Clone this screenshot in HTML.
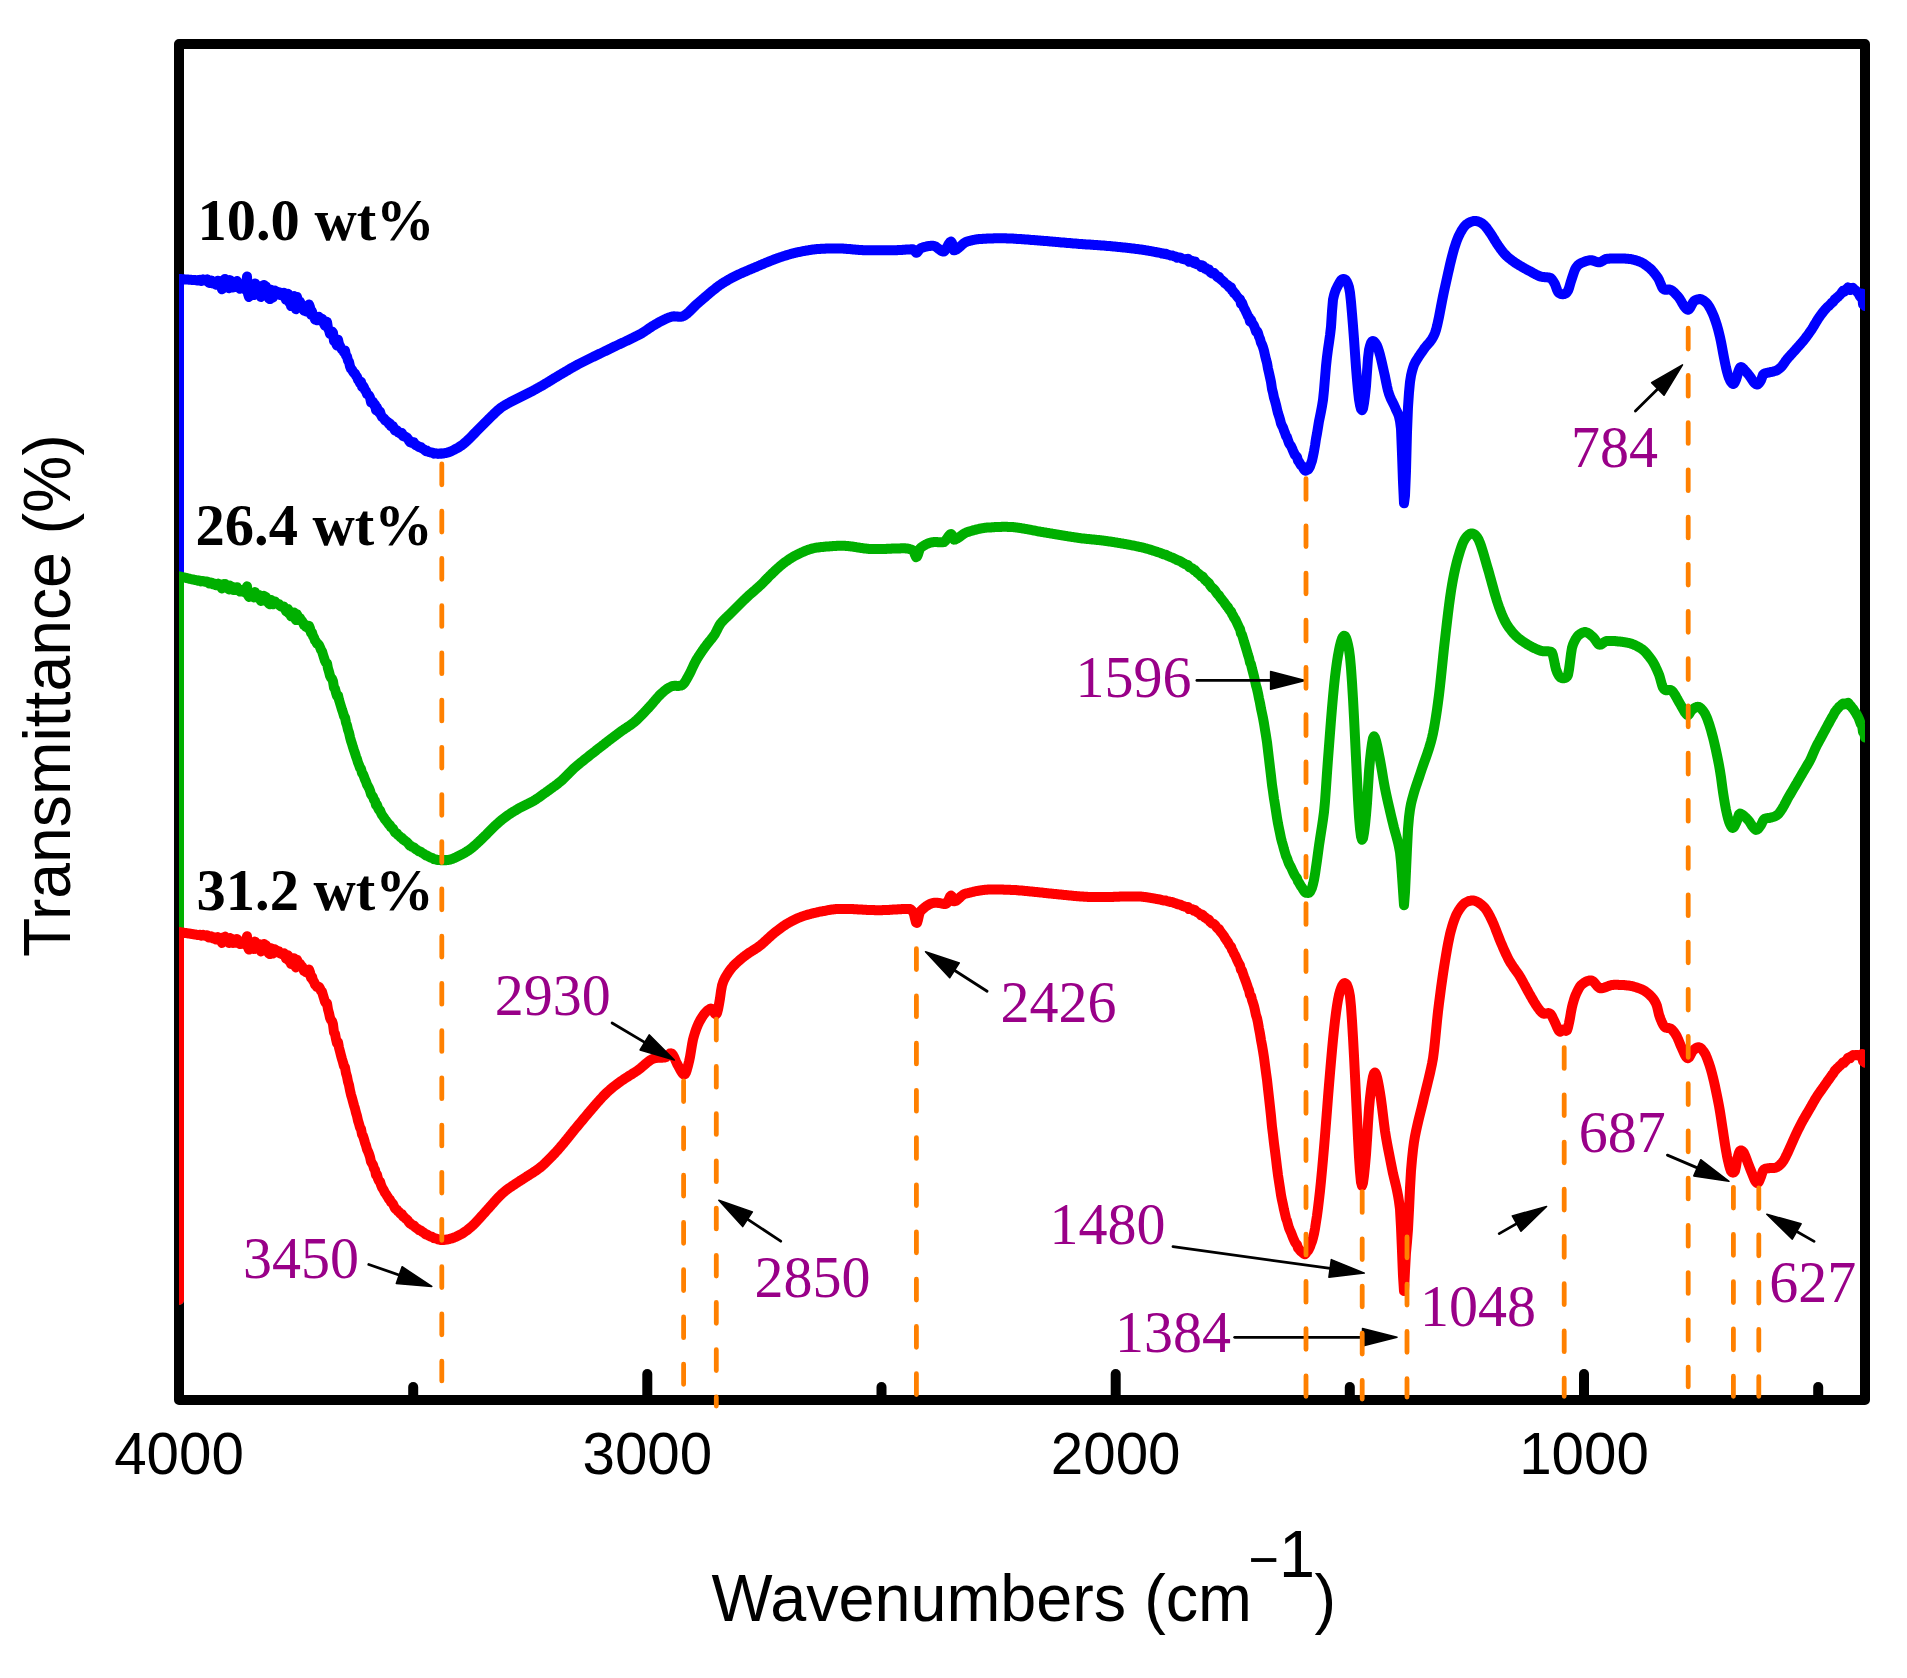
<!DOCTYPE html>
<html lang="en">
<head>
<meta charset="utf-8">
<title>FTIR spectra</title>
<style>
html,body{margin:0;padding:0;background:#fff;}
body{width:1907px;height:1678px;overflow:hidden;}
svg{display:block;}
.ax{font-family:"Liberation Sans",Arial,sans-serif;fill:#000;}
.pl{font-family:"Liberation Serif","Times New Roman",serif;font-size:58px;fill:#990088;}
.bl{font-family:"Liberation Serif","Times New Roman",serif;font-size:58.5px;font-weight:bold;fill:#000;}
</style>
</head>
<body>
<svg width="1907" height="1678" viewBox="0 0 1907 1678">
<rect x="0" y="0" width="1907" height="1678" fill="#ffffff"/>
<defs><clipPath id="plot"><rect x="179" y="44" width="1686" height="1356"/></clipPath></defs>
<!-- frame -->
<rect x="179" y="44" width="1686" height="1356" fill="none" stroke="#000" stroke-width="10" stroke-linejoin="round"/>
<g stroke="#000" stroke-width="10" stroke-linecap="round">
<line x1="647.3" y1="1400" x2="647.3" y2="1374"/>
<line x1="1115.7" y1="1400" x2="1115.7" y2="1374"/>
<line x1="1584.0" y1="1400" x2="1584.0" y2="1374"/>
<line x1="413.2" y1="1400" x2="413.2" y2="1387"/>
<line x1="881.5" y1="1400" x2="881.5" y2="1387"/>
<line x1="1349.8" y1="1400" x2="1349.8" y2="1387"/>
<line x1="1818.2" y1="1400" x2="1818.2" y2="1387"/>
</g>
<!-- spectra -->
<g clip-path="url(#plot)" fill="none" stroke-width="10" stroke-linejoin="round" stroke-linecap="round">
<path stroke="#0000ff" d="M179,1300 L179,279.0 L179,279.0 L180,279.1 L181,279.1 L182,279.2 L183,279.2 L184,279.3 L185,279.4 L186,279.4 L187,279.5 L188,279.6 L189,279.7 L190,279.7 L191,279.8 L192,279.9 L193,280.0 L194,280.0 L195,280.1 L196,280.2 L197,280.3 L198,280.6 L199,280.1 L200,279.8 L201,280.9 L202,280.3 L203,279.4 L204,280.3 L205,280.6 L206,279.9 L207,279.5 L208,281.5 L209,282.9 L210,281.3 L211,280.5 L212,282.6 L213,283.5 L214,281.6 L215,283.5 L216,284.8 L217,282.1 L218,280.8 L219,283.7 L220,283.6 L221,286.0 L222,289.3 L223,280.5 L224,281.3 L225,278.9 L226,284.3 L227,285.6 L228,282.3 L229,288.2 L230,280.1 L231,286.4 L232,286.0 L233,287.6 L234,282.0 L235,287.0 L236,281.7 L237,281.0 L238,287.0 L239,285.5 L240,288.8 L241,285.1 L242,286.7 L243,288.1 L244,283.9 L245,289.5 L246,287.0 L247,276.6 L248,293.8 L249,297.0 L250,290.5 L251,287.6 L252,290.8 L253,293.1 L254,295.1 L255,283.5 L256,292.2 L257,290.9 L258,289.1 L259,286.1 L260,294.2 L261,297.0 L262,292.1 L263,294.9 L264,284.9 L265,289.6 L266,286.3 L267,291.9 L268,296.5 L269,298.5 L270,299.1 L271,289.8 L272,294.5 L273,297.5 L274,293.8 L275,290.5 L276,293.7 L277,293.1 L278,293.0 L279,292.2 L280,294.9 L281,295.2 L282,294.7 L283,294.9 L284,292.7 L285,295.1 L286,299.9 L287,296.8 L288,293.8 L289,302.2 L290,300.5 L291,306.1 L292,300.2 L293,299.0 L294,296.0 L295,306.7 L296,309.3 L297,296.9 L298,301.0 L299,306.3 L300,301.7 L301,304.4 L302,304.8 L303,307.2 L304,310.7 L305,308.0 L306,311.4 L307,308.1 L308,311.1 L309,304.4 L310,307.2 L311,314.7 L312,311.3 L313,315.6 L314,316.3 L315,319.5 L316,318.8 L317,320.3 L318,317.8 L319,317.0 L320,317.9 L321,319.6 L322,318.7 L323,321.4 L324,323.8 L325,325.8 L326,325.2 L327,321.8 L328,328.2 L329,330.2 L330,333.8 L331,333.5 L332,331.4 L333,332.6 L334,341.2 L335,339.2 L336,343.4 L337,345.5 L338,339.7 L339,344.2 L340,346.0 L341,347.9 L342,349.5 L343,350.4 L344,352.2 L345,350.4 L346,355.5 L347,356.5 L348,360.7 L349,361.8 L350,366.3 L351,368.8 L352,369.8 L353,371.6 L354,372.9 L355,373.5 L356,375.7 L357,376.7 L358,379.8 L359,380.7 L360,383.2 L361,381.8 L362,386.9 L363,385.9 L364,387.6 L365,390.1 L366,391.2 L367,394.1 L368,394.6 L369,395.5 L370,397.5 L371,402.1 L372,402.0 L373,401.9 L374,405.0 L375,404.5 L376,410.2 L377,407.4 L378,411.3 L379,412.7 L380,411.6 L381,415.0 L382,417.0 L383,417.6 L384,418.5 L385,420.3 L386,420.5 L387,421.8 L388,422.3 L389,424.1 L390,423.5 L391,426.2 L392,425.8 L393,426.2 L394,428.5 L395,430.6 L396,430.8 L397,430.3 L398,432.2 L399,432.1 L400,433.2 L401,434.2 L402,433.1 L403,435.9 L404,435.7 L405,436.8 L406,437.0 L407,437.7 L408,438.8 L409,440.8 L410,442.1 L411,441.6 L412,443.0 L413,442.9 L414,442.5 L415,444.5 L416,445.3 L417,445.4 L418,446.4 L419,447.2 L420,447.0 L421,447.2 L422,448.4 L423,448.9 L424,449.3 L425,450.4 L426,451.2 L427,450.6 L428,451.5 L429,452.0 L430,452.2 L431,452.6 L432,452.4 L433,453.0 L434,453.7 L435,453.5 L436,453.2 L437,453.7 L438,453.9 L439,453.7 L440,453.5 L441,453.8 L442,453.3 L443,453.5 L444,453.3 L445,453.0 L446,453.0 L447,452.7 L448,452.4 L449,452.1 L450,451.8 L451,451.3 L452,450.9 L453,450.4 L454,449.9 L455,449.3 L456,448.8 L457,448.2 L458,447.7 L459,447.1 L460,446.4 L461,445.8 L462,445.1 L463,444.3 L464,443.5 L465,442.7 L466,441.8 L467,440.9 L468,439.9 L469,439.0 L470,438.0 L471,437.0 L472,436.0 L473,434.9 L474,433.9 L475,432.9 L476,431.8 L477,430.8 L478,429.8 L479,428.8 L480,427.8 L481,426.8 L482,425.8 L483,424.8 L484,423.8 L485,422.7 L486,421.7 L487,420.7 L488,419.7 L489,418.8 L490,417.8 L491,416.8 L492,415.8 L493,414.9 L494,413.9 L495,412.9 L496,412.0 L497,411.0 L498,410.2 L499,409.3 L500,408.5 L501,407.7 L502,407.0 L503,406.3 L504,405.7 L505,405.1 L506,404.5 L507,404.0 L508,403.4 L509,402.9 L510,402.3 L511,401.8 L512,401.3 L513,400.8 L514,400.3 L515,399.8 L516,399.3 L517,398.8 L518,398.3 L519,397.8 L520,397.3 L521,396.8 L522,396.3 L523,395.8 L524,395.3 L525,394.8 L526,394.3 L527,393.8 L528,393.3 L529,392.8 L530,392.3 L531,391.7 L532,391.2 L533,390.7 L534,390.1 L535,389.6 L536,389.0 L537,388.5 L538,387.9 L539,387.4 L540,386.8 L541,386.2 L542,385.7 L543,385.1 L544,384.5 L545,383.9 L546,383.3 L547,382.7 L548,382.1 L549,381.5 L550,380.9 L551,380.3 L552,379.6 L553,379.0 L554,378.4 L555,377.8 L556,377.2 L557,376.6 L558,376.0 L559,375.4 L560,374.8 L561,374.2 L562,373.6 L563,373.0 L564,372.5 L565,371.9 L566,371.3 L567,370.7 L568,370.1 L569,369.5 L570,368.9 L571,368.3 L572,367.8 L573,367.2 L574,366.6 L575,366.1 L576,365.5 L577,365.0 L578,364.4 L579,363.9 L580,363.4 L581,362.9 L582,362.4 L583,361.9 L584,361.4 L585,360.9 L586,360.4 L587,359.9 L588,359.4 L589,358.9 L590,358.4 L591,357.9 L592,357.4 L593,356.9 L594,356.5 L595,356.0 L596,355.5 L597,355.0 L598,354.5 L599,354.0 L600,353.6 L601,353.1 L602,352.6 L603,352.1 L604,351.6 L605,351.2 L606,350.7 L607,350.2 L608,349.7 L609,349.2 L610,348.7 L611,348.3 L612,347.8 L613,347.3 L614,346.8 L615,346.3 L616,345.9 L617,345.4 L618,344.9 L619,344.4 L620,344.0 L621,343.5 L622,343.0 L623,342.6 L624,342.1 L625,341.6 L626,341.1 L627,340.7 L628,340.2 L629,339.7 L630,339.2 L631,338.7 L632,338.2 L633,337.8 L634,337.3 L635,336.8 L636,336.3 L637,335.7 L638,335.2 L639,334.7 L640,334.2 L641,333.7 L642,333.1 L643,332.5 L644,331.8 L645,331.2 L646,330.5 L647,329.8 L648,329.1 L649,328.4 L650,327.8 L651,327.1 L652,326.4 L653,325.8 L654,325.2 L655,324.6 L656,324.0 L657,323.5 L658,322.9 L659,322.3 L660,321.8 L661,321.2 L662,320.7 L663,320.2 L664,319.7 L665,319.2 L666,318.8 L667,318.3 L668,317.9 L669,317.5 L670,317.2 L671,316.9 L672,316.7 L673,316.4 L674,316.3 L675,316.4 L676,316.4 L677,316.5 L678,316.7 L679,316.8 L680,316.8 L681,316.7 L682,316.6 L683,316.2 L684,315.7 L685,315.1 L686,314.4 L687,313.7 L688,312.8 L689,311.9 L690,310.9 L691,309.9 L692,308.9 L693,307.9 L694,306.9 L695,305.9 L696,304.9 L697,304.0 L698,303.1 L699,302.3 L700,301.4 L701,300.6 L702,299.7 L703,298.9 L704,298.0 L705,297.2 L706,296.3 L707,295.4 L708,294.6 L709,293.7 L710,292.9 L711,292.0 L712,291.2 L713,290.4 L714,289.6 L715,288.8 L716,288.0 L717,287.2 L718,286.5 L719,285.7 L720,285.0 L721,284.3 L722,283.6 L723,283.0 L724,282.4 L725,281.8 L726,281.2 L727,280.6 L728,280.0 L729,279.4 L730,278.9 L731,278.3 L732,277.8 L733,277.3 L734,276.8 L735,276.3 L736,275.8 L737,275.3 L738,274.8 L739,274.3 L740,273.9 L741,273.4 L742,273.0 L743,272.5 L744,272.1 L745,271.7 L746,271.2 L747,270.8 L748,270.4 L749,269.9 L750,269.5 L751,269.1 L752,268.7 L753,268.2 L754,267.8 L755,267.4 L756,267.0 L757,266.6 L758,266.1 L759,265.7 L760,265.3 L761,264.8 L762,264.4 L763,264.0 L764,263.6 L765,263.1 L766,262.7 L767,262.3 L768,261.9 L769,261.5 L770,261.1 L771,260.7 L772,260.3 L773,259.9 L774,259.5 L775,259.1 L776,258.8 L777,258.4 L778,258.0 L779,257.7 L780,257.3 L781,257.0 L782,256.7 L783,256.3 L784,256.0 L785,255.7 L786,255.4 L787,255.1 L788,254.8 L789,254.5 L790,254.2 L791,253.9 L792,253.7 L793,253.4 L794,253.2 L795,252.9 L796,252.7 L797,252.4 L798,252.2 L799,252.0 L800,251.8 L801,251.6 L802,251.4 L803,251.2 L804,251.0 L805,250.8 L806,250.6 L807,250.5 L808,250.3 L809,250.1 L810,250.0 L811,249.8 L812,249.7 L813,249.5 L814,249.4 L815,249.3 L816,249.2 L817,249.1 L818,249.0 L819,248.9 L820,248.9 L821,248.8 L822,248.8 L823,248.7 L824,248.7 L825,248.7 L826,248.6 L827,248.6 L828,248.6 L829,248.6 L830,248.6 L831,248.6 L832,248.5 L833,248.5 L834,248.5 L835,248.5 L836,248.5 L837,248.5 L838,248.5 L839,248.6 L840,248.6 L841,248.6 L842,248.6 L843,248.6 L844,248.7 L845,248.7 L846,248.8 L847,248.9 L848,248.9 L849,249.0 L850,249.1 L851,249.2 L852,249.3 L853,249.4 L854,249.5 L855,249.6 L856,249.7 L857,249.8 L858,249.8 L859,249.9 L860,250.0 L861,250.1 L862,250.1 L863,250.2 L864,250.2 L865,250.3 L866,250.3 L867,250.3 L868,250.3 L869,250.3 L870,250.3 L871,250.3 L872,250.3 L873,250.3 L874,250.3 L875,250.3 L876,250.3 L877,250.3 L878,250.3 L879,250.3 L880,250.3 L881,250.3 L882,250.3 L883,250.3 L884,250.3 L885,250.3 L886,250.3 L887,250.3 L888,250.3 L889,250.3 L890,250.3 L891,250.3 L892,250.3 L893,250.3 L894,250.3 L895,250.2 L896,250.2 L897,250.2 L898,250.1 L899,250.0 L900,250.0 L901,249.9 L902,249.9 L903,249.8 L904,249.7 L905,249.7 L906,249.6 L907,249.5 L908,249.5 L909,249.4 L910,249.4 L911,249.3 L912,249.3 L913,249.3 L914,250.0 L915,251.5 L916,252.8 L917,252.6 L918,251.5 L919,250.0 L920,248.7 L921,248.1 L922,247.8 L923,247.4 L924,247.1 L925,246.8 L926,246.6 L927,246.3 L928,246.2 L929,246.0 L930,245.9 L931,245.8 L932,245.8 L933,245.8 L934,245.9 L935,246.3 L936,246.8 L937,247.6 L938,248.3 L939,249.2 L940,249.9 L941,250.6 L942,251.2 L943,251.5 L944,251.5 L945,250.6 L946,249.1 L947,247.2 L948,245.3 L949,243.5 L950,242.2 L951,241.5 L952,242.9 L953,247.4 L954,250.3 L955,250.1 L956,249.7 L957,249.1 L958,248.3 L959,247.5 L960,246.7 L961,245.8 L962,244.9 L963,244.0 L964,243.2 L965,242.5 L966,242.0 L967,241.6 L968,241.3 L969,241.0 L970,240.8 L971,240.5 L972,240.3 L973,240.0 L974,239.8 L975,239.6 L976,239.4 L977,239.3 L978,239.2 L979,239.1 L980,239.0 L981,238.9 L982,238.9 L983,238.8 L984,238.8 L985,238.7 L986,238.7 L987,238.6 L988,238.6 L989,238.5 L990,238.5 L991,238.4 L992,238.4 L993,238.4 L994,238.3 L995,238.3 L996,238.3 L997,238.3 L998,238.3 L999,238.2 L1000,238.2 L1001,238.2 L1002,238.2 L1003,238.3 L1004,238.3 L1005,238.3 L1006,238.3 L1007,238.4 L1008,238.4 L1009,238.4 L1010,238.5 L1011,238.5 L1012,238.6 L1013,238.6 L1014,238.7 L1015,238.7 L1016,238.8 L1017,238.9 L1018,238.9 L1019,239.0 L1020,239.0 L1021,239.1 L1022,239.2 L1023,239.3 L1024,239.3 L1025,239.4 L1026,239.5 L1027,239.6 L1028,239.6 L1029,239.7 L1030,239.8 L1031,239.9 L1032,239.9 L1033,240.0 L1034,240.1 L1035,240.2 L1036,240.3 L1037,240.3 L1038,240.4 L1039,240.5 L1040,240.6 L1041,240.7 L1042,240.7 L1043,240.8 L1044,240.9 L1045,241.0 L1046,241.1 L1047,241.1 L1048,241.2 L1049,241.3 L1050,241.4 L1051,241.5 L1052,241.6 L1053,241.7 L1054,241.7 L1055,241.8 L1056,241.9 L1057,242.0 L1058,242.1 L1059,242.2 L1060,242.3 L1061,242.4 L1062,242.4 L1063,242.5 L1064,242.6 L1065,242.7 L1066,242.8 L1067,242.9 L1068,243.0 L1069,243.1 L1070,243.1 L1071,243.2 L1072,243.3 L1073,243.4 L1074,243.5 L1075,243.6 L1076,243.6 L1077,243.7 L1078,243.8 L1079,243.9 L1080,244.0 L1081,244.0 L1082,244.1 L1083,244.2 L1084,244.3 L1085,244.3 L1086,244.4 L1087,244.4 L1088,244.5 L1089,244.6 L1090,244.6 L1091,244.7 L1092,244.8 L1093,244.8 L1094,244.9 L1095,245.0 L1096,245.0 L1097,245.1 L1098,245.2 L1099,245.2 L1100,245.3 L1101,245.4 L1102,245.5 L1103,245.5 L1104,245.6 L1105,245.7 L1106,245.8 L1107,245.9 L1108,245.9 L1109,246.0 L1110,246.1 L1111,246.2 L1112,246.3 L1113,246.4 L1114,246.5 L1115,246.6 L1116,246.7 L1117,246.8 L1118,246.9 L1119,247.0 L1120,247.1 L1121,247.2 L1122,247.3 L1123,247.4 L1124,247.5 L1125,247.6 L1126,247.7 L1127,247.8 L1128,247.9 L1129,248.0 L1130,248.2 L1131,248.3 L1132,248.4 L1133,248.5 L1134,248.6 L1135,248.8 L1136,248.9 L1137,249.0 L1138,249.1 L1139,249.3 L1140,249.4 L1141,249.5 L1142,249.7 L1143,249.8 L1144,250.0 L1145,250.1 L1146,250.3 L1147,250.5 L1148,250.6 L1149,250.8 L1150,251.0 L1151,251.2 L1152,251.4 L1153,251.6 L1154,251.7 L1155,252.0 L1156,252.1 L1157,252.4 L1158,252.6 L1159,252.6 L1160,252.8 L1161,253.1 L1162,253.5 L1163,253.7 L1164,253.9 L1165,253.7 L1166,253.8 L1167,254.4 L1168,254.7 L1169,254.9 L1170,255.4 L1171,255.5 L1172,255.4 L1173,255.7 L1174,256.3 L1175,256.5 L1176,256.7 L1177,257.7 L1178,257.2 L1179,257.6 L1180,257.4 L1181,257.9 L1182,258.6 L1183,258.9 L1184,258.9 L1185,259.5 L1186,259.6 L1187,259.1 L1188,258.8 L1189,261.7 L1190,261.4 L1191,261.3 L1192,260.9 L1193,261.5 L1194,263.2 L1195,261.4 L1196,263.2 L1197,264.3 L1198,264.3 L1199,265.1 L1200,265.0 L1201,267.0 L1202,265.4 L1203,265.7 L1204,267.3 L1205,268.6 L1206,268.2 L1207,269.6 L1208,269.2 L1209,269.4 L1210,271.8 L1211,272.7 L1212,273.4 L1213,272.8 L1214,273.0 L1215,273.8 L1216,275.2 L1217,276.6 L1218,277.4 L1219,276.8 L1220,278.8 L1221,279.5 L1222,280.4 L1223,281.1 L1224,281.9 L1225,283.4 L1226,283.9 L1227,285.0 L1228,285.2 L1229,287.1 L1230,287.7 L1231,287.2 L1232,290.4 L1233,290.9 L1234,293.1 L1235,293.4 L1236,294.8 L1237,296.4 L1238,297.6 L1239,298.7 L1240,299.1 L1241,303.9 L1242,302.6 L1243,305.4 L1244,308.1 L1245,309.7 L1246,311.8 L1247,313.9 L1248,316.3 L1249,317.3 L1250,321.6 L1251,319.8 L1252,322.9 L1253,324.1 L1254,325.7 L1255,328.3 L1256,331.3 L1257,331.1 L1258,333.1 L1259,336.7 L1260,338.8 L1261,342.7 L1262,344.6 L1263,347.3 L1264,350.6 L1265,355.3 L1266,359.4 L1267,362.8 L1268,368.6 L1269,372.8 L1270,377.4 L1271,382.0 L1272,388.9 L1273,392.8 L1274,397.8 L1275,400.9 L1276,404.7 L1277,409.1 L1278,413.2 L1279,416.1 L1280,419.4 L1281,423.5 L1282,425.8 L1283,427.5 L1284,430.6 L1285,432.9 L1286,436.1 L1287,437.2 L1288,440.3 L1289,443.2 L1290,444.7 L1291,446.0 L1292,448.2 L1293,450.7 L1294,452.9 L1295,455.0 L1296,456.0 L1297,456.9 L1298,460.9 L1299,461.8 L1300,463.7 L1301,465.3 L1302,465.8 L1303,467.7 L1304,469.3 L1305,470.7 L1306,470.7 L1307,468.7 L1308,469.7 L1309,468.4 L1310,466.6 L1311,463.4 L1312,460.7 L1313,456.1 L1314,451.2 L1315,445.5 L1316,438.7 L1317,433.5 L1318,427.4 L1319,421.3 L1320,416.5 L1321,411.5 L1322,406.1 L1323,400.0 L1324,390.3 L1325,378.2 L1326,366.1 L1327,356.8 L1328,349.2 L1329,342.5 L1330,335.4 L1331,326.9 L1332,311.4 L1333,299.7 L1334,295.3 L1335,292.0 L1336,289.4 L1337,287.3 L1338,285.4 L1339,283.5 L1340,281.8 L1341,280.3 L1342,279.4 L1343,278.9 L1344,278.9 L1345,279.4 L1346,280.4 L1347,282.0 L1348,284.3 L1349,287.4 L1350,292.7 L1351,302.0 L1352,313.6 L1353,325.9 L1354,339.0 L1355,353.3 L1356,367.4 L1357,379.7 L1358,390.6 L1359,399.4 L1360,405.2 L1361,409.0 L1362,410.3 L1363,408.5 L1364,403.1 L1365,395.5 L1366,386.1 L1367,372.0 L1368,358.0 L1369,350.0 L1370,345.9 L1371,343.0 L1372,341.4 L1373,341.0 L1374,341.5 L1375,342.4 L1376,343.8 L1377,345.7 L1378,348.2 L1379,351.3 L1380,354.9 L1381,358.9 L1382,363.2 L1383,367.6 L1384,372.0 L1385,376.4 L1386,381.4 L1387,386.3 L1388,390.6 L1389,393.9 L1390,396.6 L1391,399.0 L1392,401.0 L1393,403.0 L1394,405.0 L1395,407.2 L1396,409.6 L1397,411.7 L1398,413.7 L1399,416.6 L1400,421.1 L1401,428.8 L1402,453.9 L1403,481.9 L1404,503.3 L1405,495.5 L1406,471.3 L1407,432.0 L1408,407.1 L1409,392.5 L1410,382.1 L1411,375.7 L1412,371.4 L1413,367.8 L1414,364.9 L1415,362.8 L1416,361.0 L1417,359.4 L1418,357.8 L1419,356.2 L1420,354.8 L1421,353.3 L1422,351.9 L1423,350.4 L1424,348.9 L1425,347.6 L1426,346.4 L1427,345.2 L1428,344.1 L1429,343.0 L1430,341.8 L1431,340.4 L1432,338.9 L1433,337.2 L1434,335.2 L1435,332.9 L1436,329.9 L1437,326.1 L1438,321.7 L1439,316.9 L1440,311.8 L1441,306.5 L1442,301.3 L1443,296.2 L1444,291.5 L1445,287.0 L1446,282.5 L1447,278.0 L1448,273.5 L1449,269.1 L1450,264.7 L1451,260.5 L1452,256.5 L1453,252.7 L1454,249.1 L1455,245.9 L1456,242.9 L1457,240.1 L1458,237.6 L1459,235.4 L1460,233.4 L1461,231.6 L1462,229.9 L1463,228.3 L1464,226.9 L1465,225.7 L1466,224.7 L1467,224.0 L1468,223.3 L1469,222.8 L1470,222.3 L1471,221.8 L1472,221.5 L1473,221.2 L1474,221.0 L1475,221.0 L1476,221.1 L1477,221.2 L1478,221.4 L1479,221.8 L1480,222.2 L1481,222.8 L1482,223.4 L1483,224.1 L1484,225.0 L1485,226.0 L1486,227.1 L1487,228.4 L1488,229.8 L1489,231.2 L1490,232.7 L1491,234.1 L1492,235.7 L1493,237.3 L1494,238.9 L1495,240.6 L1496,242.2 L1497,243.8 L1498,245.3 L1499,246.7 L1500,248.1 L1501,249.5 L1502,250.8 L1503,252.1 L1504,253.3 L1505,254.4 L1506,255.4 L1507,256.4 L1508,257.3 L1509,258.1 L1510,258.9 L1511,259.7 L1512,260.5 L1513,261.2 L1514,261.9 L1515,262.6 L1516,263.3 L1517,263.9 L1518,264.5 L1519,265.1 L1520,265.7 L1521,266.3 L1522,266.9 L1523,267.5 L1524,268.0 L1525,268.6 L1526,269.1 L1527,269.7 L1528,270.2 L1529,270.7 L1530,271.3 L1531,271.8 L1532,272.4 L1533,273.0 L1534,273.5 L1535,274.0 L1536,274.6 L1537,275.1 L1538,275.5 L1539,276.0 L1540,276.4 L1541,276.7 L1542,276.9 L1543,277.1 L1544,277.1 L1545,277.2 L1546,277.2 L1547,277.3 L1548,277.4 L1549,277.5 L1550,277.8 L1551,278.3 L1552,279.4 L1553,280.8 L1554,282.5 L1555,284.3 L1556,287.0 L1557,289.8 L1558,291.9 L1559,292.9 L1560,293.5 L1561,294.0 L1562,294.2 L1563,294.2 L1564,294.1 L1565,293.8 L1566,293.2 L1567,292.2 L1568,290.6 L1569,288.1 L1570,284.7 L1571,281.2 L1572,278.1 L1573,275.1 L1574,272.1 L1575,269.5 L1576,267.7 L1577,266.3 L1578,265.2 L1579,264.4 L1580,263.7 L1581,263.1 L1582,262.7 L1583,262.3 L1584,261.9 L1585,261.5 L1586,261.1 L1587,260.8 L1588,260.6 L1589,260.4 L1590,260.2 L1591,260.2 L1592,260.3 L1593,260.6 L1594,260.9 L1595,261.3 L1596,261.7 L1597,262.0 L1598,262.2 L1599,262.3 L1600,262.2 L1601,261.8 L1602,261.2 L1603,260.6 L1604,260.0 L1605,259.4 L1606,259.0 L1607,258.8 L1608,258.7 L1609,258.7 L1610,258.6 L1611,258.6 L1612,258.6 L1613,258.5 L1614,258.5 L1615,258.5 L1616,258.5 L1617,258.5 L1618,258.5 L1619,258.5 L1620,258.5 L1621,258.5 L1622,258.5 L1623,258.5 L1624,258.6 L1625,258.6 L1626,258.7 L1627,258.7 L1628,258.8 L1629,258.9 L1630,259.0 L1631,259.1 L1632,259.3 L1633,259.6 L1634,259.8 L1635,260.1 L1636,260.4 L1637,260.7 L1638,261.1 L1639,261.4 L1640,261.8 L1641,262.2 L1642,262.7 L1643,263.3 L1644,263.9 L1645,264.6 L1646,265.3 L1647,266.0 L1648,266.8 L1649,267.6 L1650,268.4 L1651,269.4 L1652,270.4 L1653,271.5 L1654,272.7 L1655,273.9 L1656,275.3 L1657,276.6 L1658,278.0 L1659,279.9 L1660,282.3 L1661,284.7 L1662,287.0 L1663,288.6 L1664,289.4 L1665,289.7 L1666,289.8 L1667,289.7 L1668,289.6 L1669,289.5 L1670,289.7 L1671,290.0 L1672,290.7 L1673,291.4 L1674,292.3 L1675,293.3 L1676,294.4 L1677,295.5 L1678,296.5 L1679,297.8 L1680,299.3 L1681,300.9 L1682,302.7 L1683,304.4 L1684,306.0 L1685,307.4 L1686,308.6 L1687,309.4 L1688,309.7 L1689,309.2 L1690,308.0 L1691,306.2 L1692,304.3 L1693,302.5 L1694,301.1 L1695,300.4 L1696,300.0 L1697,299.6 L1698,299.3 L1699,299.1 L1700,299.1 L1701,299.2 L1702,299.6 L1703,300.1 L1704,300.8 L1705,301.6 L1706,302.5 L1707,303.5 L1708,304.8 L1709,306.4 L1710,308.1 L1711,310.0 L1712,312.1 L1713,314.3 L1714,316.7 L1715,319.5 L1716,322.4 L1717,325.6 L1718,329.1 L1719,333.0 L1720,337.2 L1721,341.8 L1722,347.0 L1723,352.5 L1724,357.8 L1725,362.8 L1726,367.5 L1727,371.7 L1728,375.1 L1729,378.0 L1730,380.2 L1731,382.0 L1732,383.3 L1733,384.0 L1734,383.6 L1735,382.0 L1736,379.8 L1737,376.5 L1738,372.5 L1739,369.7 L1740,367.6 L1741,367.0 L1742,367.5 L1743,368.4 L1744,369.4 L1745,370.6 L1746,371.7 L1747,372.8 L1748,374.0 L1749,375.3 L1750,376.6 L1751,378.0 L1752,379.6 L1753,381.2 L1754,382.5 L1755,383.5 L1756,384.2 L1757,384.5 L1758,384.3 L1759,383.3 L1760,381.9 L1761,380.2 L1762,377.5 L1763,374.7 L1764,373.7 L1765,373.4 L1766,373.2 L1767,372.9 L1768,372.7 L1769,372.5 L1770,372.2 L1771,372.0 L1772,371.8 L1773,371.6 L1774,371.3 L1775,371.0 L1776,370.7 L1777,370.2 L1778,369.7 L1779,368.9 L1780,368.1 L1781,367.2 L1782,366.1 L1783,364.8 L1784,363.4 L1785,361.9 L1786,360.5 L1787,359.2 L1788,358.0 L1789,356.9 L1790,355.8 L1791,354.7 L1792,353.6 L1793,352.5 L1794,351.4 L1795,350.3 L1796,349.2 L1797,348.0 L1798,346.9 L1799,345.8 L1800,344.7 L1801,343.5 L1802,342.4 L1803,341.2 L1804,340.0 L1805,338.7 L1806,337.4 L1807,336.0 L1808,334.7 L1809,333.3 L1810,331.8 L1811,330.4 L1812,328.9 L1813,327.3 L1814,325.6 L1815,323.9 L1816,322.3 L1817,320.6 L1818,319.0 L1819,317.5 L1820,316.1 L1821,314.7 L1822,313.4 L1823,312.1 L1824,310.8 L1825,309.7 L1826,308.6 L1827,307.4 L1828,306.5 L1829,305.8 L1830,304.6 L1831,303.7 L1832,302.4 L1833,302.2 L1834,300.6 L1835,299.0 L1836,298.9 L1837,297.3 L1838,296.9 L1839,295.6 L1840,294.8 L1841,293.7 L1842,292.0 L1843,290.7 L1844,291.9 L1845,290.3 L1846,290.2 L1847,289.1 L1848,287.4 L1849,287.9 L1850,290.1 L1851,288.1 L1852,288.6 L1853,287.9 L1854,289.1 L1855,289.9 L1856,290.7 L1857,291.9 L1858,292.8 L1859,294.4 L1860,296.3 L1861,297.7 L1862,293.5 L1863,304.4 L1864,296.3 L1865,306.0"/>
<path stroke="#00af00" d="M179,1300 L179,576.3 L179,576.3 L180,576.5 L181,576.8 L182,577.0 L183,577.3 L184,577.5 L185,577.7 L186,577.9 L187,578.2 L188,578.4 L189,578.6 L190,578.9 L191,579.1 L192,579.3 L193,579.5 L194,579.7 L195,580.0 L196,580.2 L197,580.4 L198,580.7 L199,580.6 L200,580.7 L201,581.4 L202,581.2 L203,580.9 L204,581.5 L205,581.8 L206,581.5 L207,581.4 L208,582.6 L209,583.4 L210,582.7 L211,582.5 L212,583.7 L213,584.2 L214,583.4 L215,584.5 L216,585.3 L217,584.1 L218,583.6 L219,585.2 L220,585.3 L221,586.7 L222,588.5 L223,584.3 L224,584.9 L225,583.9 L226,586.8 L227,587.7 L228,586.2 L229,589.4 L230,585.6 L231,588.9 L232,588.9 L233,589.9 L234,587.2 L235,590.0 L236,587.4 L237,587.3 L238,590.4 L239,589.8 L240,591.6 L241,589.8 L242,590.7 L243,591.5 L244,589.5 L245,592.5 L246,591.4 L247,586.3 L248,595.1 L249,596.9 L250,594.0 L251,592.8 L252,594.7 L253,596.2 L254,597.5 L255,592.1 L256,596.8 L257,596.6 L258,596.0 L259,594.9 L260,599.3 L261,601.0 L262,598.9 L263,600.5 L264,595.8 L265,598.4 L266,597.0 L267,600.0 L268,602.5 L269,603.8 L270,604.3 L271,599.9 L272,602.5 L273,604.3 L274,602.7 L275,601.4 L276,603.4 L277,603.5 L278,603.9 L279,603.9 L280,605.8 L281,606.4 L282,606.7 L283,607.2 L284,606.7 L285,608.3 L286,611.2 L287,610.0 L288,609.0 L289,613.6 L290,613.1 L291,616.3 L292,613.8 L293,613.6 L294,612.5 L295,618.3 L296,620.1 L297,614.3 L298,616.8 L299,620.0 L300,618.2 L301,620.1 L302,620.9 L303,622.7 L304,625.1 L305,624.5 L306,626.9 L307,626.0 L308,628.3 L309,625.8 L310,628.3 L311,633.1 L312,632.6 L313,636.0 L314,637.6 L315,640.5 L316,641.5 L317,643.7 L318,644.0 L319,645.2 L320,647.3 L321,649.9 L322,651.3 L323,654.6 L324,657.8 L325,660.9 L326,662.7 L327,663.2 L328,668.6 L329,671.8 L330,675.8 L331,677.8 L332,678.8 L333,681.4 L334,687.7 L335,688.7 L336,692.8 L337,696.0 L338,695.3 L339,699.8 L340,703.1 L341,706.4 L342,709.7 L343,712.6 L344,716.0 L345,717.6 L346,722.6 L347,725.4 L348,729.8 L349,732.7 L350,737.2 L351,740.9 L352,743.9 L353,747.3 L354,750.4 L355,753.2 L356,756.5 L357,759.1 L358,762.6 L359,764.9 L360,767.9 L361,768.8 L362,773.0 L363,774.2 L364,776.7 L365,779.5 L366,781.6 L367,784.6 L368,786.3 L369,788.2 L370,790.6 L371,794.3 L372,795.6 L373,796.9 L374,799.8 L375,800.8 L376,805.0 L377,804.8 L378,807.9 L379,809.8 L380,810.3 L381,813.0 L382,815.0 L383,816.3 L384,817.7 L385,819.5 L386,820.5 L387,822.0 L388,823.1 L389,824.8 L390,825.2 L391,827.3 L392,827.9 L393,828.8 L394,830.6 L395,832.4 L396,833.1 L397,833.5 L398,835.1 L399,835.6 L400,836.7 L401,837.7 L402,837.7 L403,839.5 L404,839.9 L405,840.9 L406,841.4 L407,842.2 L408,843.2 L409,844.6 L410,845.6 L411,845.8 L412,846.9 L413,847.1 L414,847.3 L415,848.6 L416,849.4 L417,849.8 L418,850.6 L419,851.3 L420,851.5 L421,852.0 L422,852.9 L423,853.4 L424,853.9 L425,854.8 L426,855.4 L427,855.5 L428,856.2 L429,856.8 L430,857.2 L431,857.7 L432,857.9 L433,858.5 L434,859.1 L435,859.3 L436,859.4 L437,859.8 L438,860.0 L439,860.0 L440,860.0 L441,860.3 L442,860.1 L443,860.3 L444,860.2 L445,860.1 L446,860.2 L447,860.1 L448,859.9 L449,859.8 L450,859.6 L451,859.3 L452,859.0 L453,858.6 L454,858.2 L455,857.7 L456,857.3 L457,856.8 L458,856.3 L459,855.8 L460,855.3 L461,854.8 L462,854.3 L463,853.8 L464,853.2 L465,852.6 L466,852.0 L467,851.4 L468,850.7 L469,850.1 L470,849.3 L471,848.6 L472,847.8 L473,847.0 L474,846.2 L475,845.3 L476,844.4 L477,843.5 L478,842.5 L479,841.6 L480,840.6 L481,839.7 L482,838.7 L483,837.8 L484,836.8 L485,835.8 L486,834.9 L487,833.8 L488,832.8 L489,831.8 L490,830.8 L491,829.8 L492,828.8 L493,827.8 L494,826.8 L495,825.8 L496,824.9 L497,824.0 L498,823.1 L499,822.2 L500,821.4 L501,820.5 L502,819.7 L503,818.9 L504,818.1 L505,817.3 L506,816.6 L507,815.9 L508,815.2 L509,814.5 L510,813.8 L511,813.1 L512,812.5 L513,811.9 L514,811.3 L515,810.7 L516,810.1 L517,809.5 L518,808.9 L519,808.3 L520,807.8 L521,807.2 L522,806.7 L523,806.2 L524,805.7 L525,805.2 L526,804.7 L527,804.2 L528,803.8 L529,803.3 L530,802.8 L531,802.3 L532,801.8 L533,801.2 L534,800.6 L535,800.0 L536,799.4 L537,798.7 L538,798.0 L539,797.3 L540,796.6 L541,795.9 L542,795.2 L543,794.4 L544,793.7 L545,793.0 L546,792.3 L547,791.5 L548,790.8 L549,790.1 L550,789.4 L551,788.7 L552,788.0 L553,787.2 L554,786.5 L555,785.8 L556,785.0 L557,784.3 L558,783.5 L559,782.7 L560,781.9 L561,781.1 L562,780.2 L563,779.3 L564,778.3 L565,777.3 L566,776.3 L567,775.3 L568,774.3 L569,773.2 L570,772.2 L571,771.2 L572,770.2 L573,769.3 L574,768.3 L575,767.4 L576,766.6 L577,765.7 L578,764.9 L579,764.1 L580,763.2 L581,762.4 L582,761.6 L583,760.8 L584,760.0 L585,759.2 L586,758.4 L587,757.6 L588,756.8 L589,756.0 L590,755.2 L591,754.4 L592,753.6 L593,752.8 L594,752.1 L595,751.3 L596,750.5 L597,749.7 L598,748.9 L599,748.2 L600,747.4 L601,746.6 L602,745.8 L603,745.0 L604,744.3 L605,743.5 L606,742.7 L607,742.0 L608,741.2 L609,740.4 L610,739.6 L611,738.9 L612,738.1 L613,737.3 L614,736.6 L615,735.8 L616,735.1 L617,734.3 L618,733.6 L619,732.8 L620,732.1 L621,731.4 L622,730.7 L623,730.0 L624,729.4 L625,728.7 L626,728.0 L627,727.4 L628,726.7 L629,726.0 L630,725.3 L631,724.6 L632,723.9 L633,723.1 L634,722.3 L635,721.5 L636,720.7 L637,719.7 L638,718.8 L639,717.8 L640,716.8 L641,715.8 L642,714.8 L643,713.7 L644,712.7 L645,711.6 L646,710.5 L647,709.5 L648,708.4 L649,707.4 L650,706.2 L651,705.1 L652,704.0 L653,702.8 L654,701.6 L655,700.4 L656,699.3 L657,698.1 L658,697.0 L659,695.9 L660,694.9 L661,693.9 L662,693.0 L663,692.1 L664,691.2 L665,690.4 L666,689.6 L667,688.9 L668,688.2 L669,687.6 L670,687.1 L671,686.6 L672,686.2 L673,686.0 L674,685.8 L675,685.8 L676,685.8 L677,685.9 L678,685.9 L679,685.9 L680,685.7 L681,685.5 L682,685.1 L683,684.5 L684,683.4 L685,682.0 L686,680.3 L687,678.5 L688,676.7 L689,674.9 L690,672.9 L691,670.9 L692,668.7 L693,666.6 L694,664.5 L695,662.5 L696,660.6 L697,658.9 L698,657.3 L699,655.7 L700,654.2 L701,652.7 L702,651.3 L703,649.8 L704,648.4 L705,647.0 L706,645.7 L707,644.3 L708,643.1 L709,641.8 L710,640.6 L711,639.4 L712,638.1 L713,636.8 L714,635.4 L715,633.9 L716,632.0 L717,630.1 L718,628.0 L719,626.1 L720,624.4 L721,623.0 L722,621.9 L723,620.8 L724,619.8 L725,618.8 L726,617.8 L727,616.9 L728,615.9 L729,615.0 L730,614.0 L731,613.0 L732,612.0 L733,611.0 L734,610.0 L735,609.0 L736,608.0 L737,607.0 L738,606.0 L739,605.0 L740,604.0 L741,603.0 L742,602.0 L743,601.0 L744,600.0 L745,599.1 L746,598.1 L747,597.2 L748,596.2 L749,595.3 L750,594.4 L751,593.6 L752,592.7 L753,591.8 L754,591.0 L755,590.1 L756,589.2 L757,588.4 L758,587.5 L759,586.5 L760,585.6 L761,584.7 L762,583.7 L763,582.7 L764,581.7 L765,580.6 L766,579.6 L767,578.6 L768,577.6 L769,576.5 L770,575.5 L771,574.6 L772,573.6 L773,572.6 L774,571.7 L775,570.8 L776,569.8 L777,568.9 L778,568.0 L779,567.1 L780,566.2 L781,565.4 L782,564.6 L783,563.7 L784,563.0 L785,562.2 L786,561.5 L787,560.8 L788,560.1 L789,559.4 L790,558.7 L791,558.1 L792,557.5 L793,556.9 L794,556.3 L795,555.8 L796,555.2 L797,554.7 L798,554.2 L799,553.7 L800,553.2 L801,552.8 L802,552.3 L803,551.9 L804,551.5 L805,551.0 L806,550.6 L807,550.2 L808,549.9 L809,549.5 L810,549.2 L811,548.9 L812,548.6 L813,548.3 L814,548.1 L815,547.9 L816,547.7 L817,547.6 L818,547.5 L819,547.3 L820,547.2 L821,547.1 L822,547.0 L823,546.9 L824,546.8 L825,546.7 L826,546.6 L827,546.5 L828,546.4 L829,546.4 L830,546.3 L831,546.2 L832,546.2 L833,546.1 L834,546.0 L835,545.9 L836,545.9 L837,545.8 L838,545.8 L839,545.7 L840,545.7 L841,545.7 L842,545.7 L843,545.7 L844,545.8 L845,545.8 L846,545.9 L847,546.0 L848,546.1 L849,546.2 L850,546.3 L851,546.4 L852,546.5 L853,546.7 L854,546.8 L855,547.0 L856,547.1 L857,547.3 L858,547.5 L859,547.6 L860,547.8 L861,547.9 L862,548.1 L863,548.2 L864,548.4 L865,548.5 L866,548.6 L867,548.7 L868,548.8 L869,548.9 L870,548.9 L871,549.0 L872,549.0 L873,549.0 L874,549.0 L875,549.1 L876,549.1 L877,549.1 L878,549.1 L879,549.0 L880,549.0 L881,549.0 L882,549.0 L883,549.0 L884,548.9 L885,548.9 L886,548.9 L887,548.8 L888,548.8 L889,548.7 L890,548.7 L891,548.7 L892,548.6 L893,548.6 L894,548.5 L895,548.5 L896,548.5 L897,548.4 L898,548.4 L899,548.4 L900,548.4 L901,548.3 L902,548.3 L903,548.3 L904,548.3 L905,548.3 L906,548.4 L907,548.5 L908,548.7 L909,548.9 L910,549.2 L911,549.5 L912,549.9 L913,550.3 L914,551.8 L915,554.8 L916,557.1 L917,556.8 L918,554.5 L919,551.3 L920,548.6 L921,547.5 L922,546.8 L923,546.2 L924,545.5 L925,545.0 L926,544.4 L927,543.9 L928,543.5 L929,543.1 L930,542.8 L931,542.5 L932,542.3 L933,542.2 L934,542.1 L935,542.1 L936,542.1 L937,542.1 L938,542.2 L939,542.2 L940,542.2 L941,542.3 L942,542.3 L943,542.2 L944,542.0 L945,541.2 L946,540.0 L947,538.5 L948,537.0 L949,535.6 L950,534.5 L951,534.0 L952,534.8 L953,537.8 L954,539.7 L955,539.5 L956,539.1 L957,538.6 L958,538.0 L959,537.3 L960,536.6 L961,535.9 L962,535.1 L963,534.4 L964,533.7 L965,533.1 L966,532.6 L967,532.2 L968,531.9 L969,531.6 L970,531.3 L971,531.0 L972,530.7 L973,530.4 L974,530.1 L975,529.9 L976,529.6 L977,529.3 L978,529.1 L979,528.9 L980,528.6 L981,528.4 L982,528.3 L983,528.1 L984,527.9 L985,527.8 L986,527.7 L987,527.6 L988,527.6 L989,527.5 L990,527.4 L991,527.4 L992,527.3 L993,527.2 L994,527.2 L995,527.1 L996,527.1 L997,527.0 L998,527.0 L999,526.9 L1000,526.9 L1001,526.9 L1002,526.8 L1003,526.8 L1004,526.8 L1005,526.8 L1006,526.8 L1007,526.8 L1008,526.9 L1009,526.9 L1010,526.9 L1011,527.0 L1012,527.1 L1013,527.1 L1014,527.2 L1015,527.3 L1016,527.4 L1017,527.6 L1018,527.7 L1019,527.8 L1020,528.0 L1021,528.1 L1022,528.3 L1023,528.5 L1024,528.6 L1025,528.8 L1026,529.0 L1027,529.2 L1028,529.4 L1029,529.6 L1030,529.7 L1031,529.9 L1032,530.1 L1033,530.3 L1034,530.5 L1035,530.7 L1036,530.9 L1037,531.1 L1038,531.3 L1039,531.5 L1040,531.6 L1041,531.8 L1042,532.0 L1043,532.1 L1044,532.3 L1045,532.5 L1046,532.6 L1047,532.8 L1048,533.0 L1049,533.1 L1050,533.3 L1051,533.5 L1052,533.6 L1053,533.8 L1054,534.0 L1055,534.2 L1056,534.3 L1057,534.5 L1058,534.7 L1059,534.8 L1060,535.0 L1061,535.2 L1062,535.3 L1063,535.5 L1064,535.7 L1065,535.8 L1066,536.0 L1067,536.1 L1068,536.3 L1069,536.5 L1070,536.6 L1071,536.8 L1072,536.9 L1073,537.1 L1074,537.2 L1075,537.4 L1076,537.5 L1077,537.7 L1078,537.8 L1079,538.0 L1080,538.1 L1081,538.3 L1082,538.4 L1083,538.5 L1084,538.6 L1085,538.7 L1086,538.8 L1087,538.9 L1088,539.0 L1089,539.1 L1090,539.2 L1091,539.3 L1092,539.4 L1093,539.5 L1094,539.6 L1095,539.7 L1096,539.8 L1097,539.9 L1098,540.0 L1099,540.1 L1100,540.2 L1101,540.3 L1102,540.4 L1103,540.6 L1104,540.7 L1105,540.8 L1106,541.0 L1107,541.1 L1108,541.3 L1109,541.4 L1110,541.5 L1111,541.7 L1112,541.8 L1113,542.0 L1114,542.1 L1115,542.3 L1116,542.5 L1117,542.6 L1118,542.8 L1119,543.0 L1120,543.1 L1121,543.3 L1122,543.5 L1123,543.6 L1124,543.8 L1125,544.0 L1126,544.2 L1127,544.4 L1128,544.6 L1129,544.7 L1130,544.9 L1131,545.1 L1132,545.3 L1133,545.5 L1134,545.7 L1135,545.9 L1136,546.1 L1137,546.3 L1138,546.5 L1139,546.8 L1140,547.0 L1141,547.2 L1142,547.4 L1143,547.7 L1144,547.9 L1145,548.2 L1146,548.5 L1147,548.7 L1148,549.0 L1149,549.3 L1150,549.6 L1151,549.9 L1152,550.2 L1153,550.6 L1154,550.8 L1155,551.2 L1156,551.5 L1157,551.9 L1158,552.2 L1159,552.5 L1160,552.8 L1161,553.2 L1162,553.7 L1163,554.1 L1164,554.4 L1165,554.6 L1166,554.9 L1167,555.5 L1168,555.9 L1169,556.3 L1170,556.8 L1171,557.2 L1172,557.5 L1173,557.9 L1174,558.5 L1175,558.9 L1176,559.3 L1177,560.1 L1178,560.2 L1179,560.7 L1180,561.0 L1181,561.7 L1182,562.4 L1183,563.0 L1184,563.4 L1185,564.1 L1186,564.6 L1187,564.8 L1188,565.1 L1189,567.1 L1190,567.4 L1191,567.9 L1192,568.2 L1193,569.0 L1194,570.4 L1195,570.1 L1196,571.5 L1197,572.6 L1198,573.2 L1199,574.2 L1200,574.8 L1201,576.4 L1202,576.2 L1203,577.0 L1204,578.5 L1205,579.9 L1206,580.4 L1207,581.8 L1208,582.4 L1209,583.3 L1210,585.3 L1211,586.5 L1212,587.7 L1213,588.2 L1214,589.2 L1215,590.4 L1216,592.0 L1217,593.5 L1218,594.8 L1219,595.3 L1220,597.2 L1221,598.4 L1222,599.7 L1223,600.9 L1224,602.1 L1225,603.8 L1226,604.9 L1227,606.4 L1228,607.4 L1229,609.3 L1230,610.6 L1231,611.4 L1232,614.0 L1233,615.4 L1234,617.6 L1235,619.0 L1236,620.8 L1237,623.0 L1238,625.1 L1239,627.3 L1240,629.2 L1241,633.5 L1242,634.8 L1243,638.2 L1244,641.7 L1245,644.7 L1246,648.0 L1247,651.4 L1248,654.9 L1249,657.8 L1250,662.5 L1251,664.3 L1252,668.7 L1253,672.3 L1254,676.2 L1255,680.8 L1256,685.6 L1257,688.8 L1258,693.3 L1259,698.5 L1260,703.0 L1261,708.6 L1262,713.2 L1263,718.1 L1264,723.5 L1265,729.7 L1266,735.8 L1267,742.2 L1268,750.7 L1269,759.0 L1270,767.5 L1271,775.9 L1272,784.8 L1273,791.5 L1274,798.7 L1275,804.8 L1276,811.2 L1277,817.7 L1278,823.6 L1279,828.4 L1280,833.2 L1281,838.2 L1282,842.1 L1283,845.4 L1284,849.3 L1285,852.6 L1286,856.0 L1287,858.1 L1288,861.0 L1289,863.7 L1290,865.6 L1291,867.3 L1292,869.5 L1293,871.7 L1294,873.7 L1295,875.7 L1296,877.1 L1297,878.4 L1298,881.3 L1299,882.7 L1300,884.5 L1301,886.3 L1302,887.5 L1303,889.3 L1304,890.9 L1305,892.2 L1306,892.7 L1307,892.1 L1308,893.0 L1309,892.7 L1310,891.8 L1311,889.9 L1312,887.8 L1313,884.1 L1314,879.8 L1315,874.2 L1316,867.3 L1317,860.5 L1318,853.0 L1319,845.6 L1320,839.0 L1321,832.6 L1322,826.2 L1323,819.5 L1324,812.0 L1325,801.5 L1326,787.7 L1327,772.8 L1328,759.1 L1329,746.1 L1330,733.0 L1331,720.2 L1332,708.0 L1333,696.6 L1334,686.3 L1335,677.0 L1336,668.8 L1337,661.6 L1338,655.4 L1339,650.1 L1340,645.4 L1341,641.5 L1342,638.5 L1343,636.6 L1344,635.7 L1345,636.1 L1346,637.8 L1347,640.6 L1348,644.6 L1349,649.8 L1350,657.1 L1351,668.2 L1352,682.3 L1353,698.8 L1354,717.3 L1355,737.4 L1356,757.7 L1357,778.5 L1358,799.5 L1359,816.5 L1360,828.7 L1361,836.5 L1362,839.7 L1363,838.2 L1364,832.9 L1365,824.9 L1366,815.1 L1367,803.1 L1368,787.2 L1369,771.4 L1370,759.8 L1371,750.9 L1372,743.5 L1373,738.3 L1374,736.3 L1375,737.8 L1376,740.8 L1377,744.9 L1378,749.6 L1379,754.7 L1380,759.8 L1381,765.4 L1382,771.2 L1383,777.2 L1384,783.0 L1385,788.4 L1386,793.3 L1387,797.9 L1388,802.4 L1389,806.7 L1390,811.0 L1391,815.3 L1392,819.5 L1393,823.7 L1394,827.8 L1395,831.5 L1396,835.0 L1397,838.6 L1398,842.5 L1399,847.0 L1400,852.3 L1401,861.9 L1402,876.0 L1403,890.6 L1404,905.2 L1405,892.4 L1406,871.1 L1407,848.8 L1408,828.8 L1409,817.2 L1410,809.5 L1411,804.0 L1412,799.9 L1413,796.2 L1414,792.7 L1415,789.4 L1416,786.3 L1417,783.3 L1418,780.4 L1419,777.5 L1420,774.5 L1421,771.5 L1422,768.5 L1423,765.6 L1424,762.8 L1425,760.0 L1426,757.2 L1427,754.3 L1428,751.3 L1429,748.3 L1430,745.0 L1431,741.6 L1432,737.7 L1433,733.3 L1434,728.2 L1435,722.5 L1436,716.4 L1437,709.7 L1438,702.5 L1439,694.9 L1440,686.2 L1441,676.9 L1442,667.2 L1443,657.5 L1444,648.0 L1445,639.2 L1446,630.5 L1447,621.9 L1448,613.5 L1449,605.5 L1450,598.0 L1451,591.1 L1452,585.0 L1453,579.4 L1454,574.3 L1455,569.6 L1456,565.3 L1457,561.3 L1458,557.7 L1459,554.3 L1460,551.1 L1461,548.0 L1462,545.2 L1463,542.7 L1464,540.6 L1465,538.9 L1466,537.5 L1467,536.3 L1468,535.3 L1469,534.5 L1470,533.9 L1471,533.6 L1472,533.5 L1473,533.7 L1474,534.1 L1475,534.7 L1476,535.7 L1477,537.0 L1478,538.6 L1479,540.6 L1480,543.0 L1481,545.8 L1482,548.8 L1483,552.0 L1484,555.4 L1485,558.9 L1486,562.4 L1487,565.9 L1488,569.2 L1489,572.7 L1490,576.3 L1491,579.9 L1492,583.6 L1493,587.2 L1494,590.8 L1495,594.3 L1496,597.7 L1497,601.0 L1498,604.0 L1499,606.9 L1500,609.6 L1501,612.2 L1502,614.7 L1503,617.0 L1504,619.2 L1505,621.2 L1506,623.0 L1507,624.7 L1508,626.2 L1509,627.7 L1510,629.0 L1511,630.3 L1512,631.6 L1513,632.8 L1514,633.9 L1515,635.0 L1516,636.0 L1517,636.9 L1518,637.8 L1519,638.6 L1520,639.4 L1521,640.1 L1522,640.8 L1523,641.5 L1524,642.2 L1525,642.8 L1526,643.5 L1527,644.1 L1528,644.7 L1529,645.3 L1530,645.9 L1531,646.4 L1532,647.0 L1533,647.5 L1534,648.0 L1535,648.4 L1536,648.9 L1537,649.3 L1538,649.8 L1539,650.1 L1540,650.5 L1541,650.9 L1542,651.1 L1543,651.2 L1544,651.2 L1545,651.2 L1546,651.2 L1547,651.2 L1548,651.3 L1549,651.4 L1550,651.6 L1551,651.9 L1552,652.6 L1553,655.5 L1554,660.0 L1555,665.0 L1556,669.3 L1557,672.0 L1558,674.1 L1559,675.9 L1560,677.1 L1561,677.7 L1562,678.1 L1563,678.3 L1564,678.3 L1565,678.0 L1566,677.5 L1567,676.6 L1568,674.9 L1569,669.5 L1570,661.9 L1571,653.9 L1572,647.7 L1573,644.6 L1574,642.3 L1575,640.3 L1576,638.4 L1577,636.9 L1578,635.7 L1579,634.8 L1580,634.1 L1581,633.5 L1582,632.9 L1583,632.5 L1584,632.2 L1585,632.0 L1586,632.2 L1587,632.5 L1588,633.0 L1589,633.7 L1590,634.4 L1591,635.3 L1592,636.1 L1593,637.0 L1594,638.1 L1595,639.5 L1596,641.0 L1597,642.5 L1598,643.8 L1599,644.6 L1600,644.7 L1601,644.5 L1602,643.9 L1603,643.1 L1604,642.4 L1605,641.6 L1606,641.1 L1607,640.9 L1608,640.9 L1609,640.9 L1610,640.9 L1611,640.9 L1612,641.0 L1613,641.0 L1614,641.1 L1615,641.1 L1616,641.2 L1617,641.3 L1618,641.4 L1619,641.5 L1620,641.6 L1621,641.7 L1622,641.8 L1623,641.9 L1624,642.1 L1625,642.3 L1626,642.4 L1627,642.6 L1628,642.8 L1629,643.0 L1630,643.3 L1631,643.6 L1632,643.9 L1633,644.3 L1634,644.7 L1635,645.2 L1636,645.6 L1637,646.1 L1638,646.7 L1639,647.2 L1640,647.8 L1641,648.5 L1642,649.2 L1643,649.9 L1644,650.8 L1645,651.8 L1646,652.8 L1647,654.0 L1648,655.2 L1649,656.4 L1650,657.8 L1651,659.1 L1652,660.6 L1653,662.1 L1654,663.8 L1655,665.7 L1656,667.8 L1657,669.9 L1658,672.2 L1659,674.6 L1660,677.8 L1661,681.5 L1662,685.0 L1663,687.7 L1664,689.1 L1665,689.9 L1666,690.2 L1667,690.2 L1668,690.1 L1669,690.0 L1670,690.0 L1671,690.2 L1672,690.8 L1673,691.9 L1674,693.3 L1675,694.9 L1676,696.6 L1677,698.5 L1678,700.3 L1679,702.1 L1680,703.8 L1681,705.5 L1682,707.3 L1683,709.1 L1684,710.9 L1685,712.5 L1686,713.8 L1687,714.8 L1688,715.2 L1689,714.3 L1690,712.7 L1691,711.0 L1692,709.8 L1693,709.1 L1694,708.3 L1695,707.7 L1696,707.2 L1697,706.9 L1698,706.8 L1699,707.0 L1700,707.6 L1701,708.4 L1702,709.5 L1703,710.7 L1704,712.1 L1705,713.7 L1706,715.8 L1707,718.1 L1708,720.8 L1709,723.7 L1710,726.8 L1711,730.2 L1712,733.8 L1713,737.6 L1714,741.6 L1715,745.9 L1716,750.4 L1717,755.1 L1718,760.0 L1719,765.1 L1720,770.8 L1721,777.3 L1722,784.9 L1723,792.1 L1724,798.5 L1725,804.4 L1726,809.7 L1727,814.3 L1728,818.3 L1729,821.6 L1730,824.1 L1731,826.2 L1732,827.6 L1733,827.9 L1734,827.1 L1735,825.3 L1736,823.1 L1737,820.8 L1738,817.4 L1739,814.4 L1740,813.6 L1741,813.9 L1742,814.4 L1743,815.2 L1744,816.0 L1745,816.9 L1746,817.8 L1747,818.8 L1748,819.9 L1749,821.0 L1750,822.5 L1751,824.2 L1752,825.8 L1753,827.1 L1754,828.3 L1755,829.3 L1756,829.9 L1757,829.7 L1758,829.0 L1759,827.8 L1760,826.4 L1761,824.9 L1762,822.9 L1763,820.7 L1764,819.2 L1765,818.6 L1766,818.4 L1767,818.2 L1768,818.1 L1769,818.0 L1770,817.8 L1771,817.5 L1772,817.3 L1773,817.0 L1774,816.7 L1775,816.3 L1776,815.8 L1777,815.2 L1778,814.4 L1779,813.3 L1780,812.0 L1781,810.5 L1782,809.0 L1783,807.4 L1784,805.6 L1785,803.7 L1786,801.8 L1787,799.9 L1788,798.0 L1789,796.3 L1790,794.6 L1791,792.9 L1792,791.2 L1793,789.5 L1794,787.8 L1795,786.1 L1796,784.4 L1797,782.7 L1798,780.9 L1799,779.2 L1800,777.5 L1801,775.8 L1802,774.1 L1803,772.3 L1804,770.7 L1805,769.0 L1806,767.3 L1807,765.6 L1808,763.9 L1809,762.2 L1810,760.4 L1811,758.3 L1812,756.1 L1813,753.8 L1814,751.5 L1815,749.2 L1816,747.1 L1817,745.1 L1818,743.2 L1819,741.4 L1820,739.5 L1821,737.7 L1822,735.8 L1823,734.0 L1824,732.1 L1825,730.3 L1826,728.4 L1827,726.5 L1828,724.6 L1829,722.9 L1830,720.9 L1831,719.2 L1832,717.2 L1833,715.9 L1834,713.8 L1835,711.9 L1836,710.8 L1837,709.2 L1838,708.2 L1839,707.0 L1840,706.2 L1841,705.4 L1842,704.4 L1843,703.7 L1844,704.4 L1845,703.6 L1846,703.7 L1847,703.3 L1848,702.8 L1849,703.7 L1850,705.8 L1851,706.1 L1852,707.7 L1853,708.6 L1854,710.3 L1855,711.8 L1856,713.3 L1857,715.1 L1858,716.8 L1859,719.0 L1860,721.8 L1861,724.5 L1862,724.6 L1863,732.2 L1864,730.3 L1865,737.5"/>
<path stroke="#ff0000" d="M179,1300 L179,932.0 L179,932.0 L180,932.1 L181,932.3 L182,932.5 L183,932.6 L184,932.8 L185,932.9 L186,933.1 L187,933.2 L188,933.4 L189,933.5 L190,933.7 L191,933.8 L192,934.0 L193,934.2 L194,934.3 L195,934.5 L196,934.6 L197,934.8 L198,935.1 L199,934.9 L200,934.8 L201,935.6 L202,935.3 L203,934.8 L204,935.5 L205,935.8 L206,935.4 L207,935.2 L208,936.6 L209,937.6 L210,936.7 L211,936.3 L212,937.7 L213,938.4 L214,937.2 L215,938.6 L216,939.5 L217,937.8 L218,937.1 L219,939.1 L220,939.1 L221,940.7 L222,943.0 L223,937.4 L224,938.0 L225,936.6 L226,940.2 L227,941.1 L228,939.1 L229,943.0 L230,937.9 L231,942.1 L232,941.9 L233,943.0 L234,939.4 L235,942.8 L236,939.4 L237,939.0 L238,943.0 L239,941.9 L240,944.1 L241,941.7 L242,942.7 L243,943.6 L244,940.8 L245,944.5 L246,942.9 L247,936.2 L248,947.4 L249,949.6 L250,945.5 L251,943.7 L252,945.9 L253,947.5 L254,949.0 L255,941.6 L256,947.5 L257,946.8 L258,945.8 L259,944.0 L260,949.5 L261,951.4 L262,948.4 L263,950.4 L264,944.0 L265,947.2 L266,945.2 L267,949.0 L268,952.1 L269,953.5 L270,954.1 L271,948.2 L272,951.4 L273,953.5 L274,951.2 L275,949.3 L276,951.6 L277,951.4 L278,951.6 L279,951.4 L280,953.4 L281,953.9 L282,954.0 L283,954.4 L284,953.3 L285,955.2 L286,958.6 L287,956.9 L288,955.2 L289,960.9 L290,960.0 L291,963.9 L292,960.4 L293,959.8 L294,958.2 L295,965.4 L296,967.4 L297,959.6 L298,962.6 L299,966.3 L300,963.6 L301,965.7 L302,966.3 L303,968.3 L304,970.9 L305,969.6 L306,972.3 L307,970.7 L308,973.2 L309,969.6 L310,972.2 L311,977.9 L312,976.6 L313,980.4 L314,981.7 L315,984.7 L316,985.2 L317,987.0 L318,986.4 L319,986.9 L320,988.6 L321,990.9 L322,991.7 L323,995.1 L324,998.4 L325,1001.7 L326,1003.3 L327,1003.2 L328,1009.5 L329,1013.0 L330,1017.7 L331,1020.0 L332,1021.1 L333,1024.3 L334,1032.5 L335,1033.8 L336,1039.1 L337,1043.2 L338,1042.1 L339,1047.7 L340,1051.5 L341,1055.4 L342,1059.1 L343,1062.4 L344,1066.1 L345,1067.5 L346,1073.3 L347,1076.5 L348,1081.7 L349,1085.0 L350,1090.4 L351,1094.7 L352,1097.9 L353,1101.8 L354,1105.4 L355,1108.6 L356,1112.7 L357,1116.0 L358,1120.6 L359,1123.7 L360,1127.6 L361,1129.0 L362,1134.4 L363,1136.0 L364,1139.1 L365,1142.7 L366,1145.4 L367,1149.3 L368,1151.4 L369,1153.9 L370,1157.0 L371,1161.7 L372,1163.3 L373,1164.9 L374,1168.5 L375,1169.8 L376,1175.1 L377,1174.7 L378,1178.7 L379,1180.9 L380,1181.5 L381,1184.9 L382,1187.4 L383,1188.9 L384,1190.7 L385,1192.9 L386,1194.1 L387,1195.9 L388,1197.2 L389,1199.2 L390,1199.7 L391,1202.3 L392,1202.9 L393,1204.0 L394,1206.2 L395,1208.3 L396,1209.2 L397,1209.5 L398,1211.4 L399,1211.9 L400,1213.2 L401,1214.4 L402,1214.2 L403,1216.5 L404,1216.9 L405,1218.1 L406,1218.7 L407,1219.6 L408,1220.7 L409,1222.4 L410,1223.6 L411,1223.7 L412,1225.0 L413,1225.3 L414,1225.4 L415,1227.0 L416,1227.9 L417,1228.3 L418,1229.2 L419,1230.0 L420,1230.2 L421,1230.6 L422,1231.7 L423,1232.3 L424,1232.8 L425,1233.8 L426,1234.6 L427,1234.5 L428,1235.3 L429,1235.8 L430,1236.2 L431,1236.7 L432,1236.8 L433,1237.5 L434,1238.1 L435,1238.3 L436,1238.4 L437,1238.9 L438,1239.3 L439,1239.5 L440,1239.6 L441,1240.0 L442,1239.8 L443,1240.0 L444,1239.9 L445,1239.7 L446,1239.7 L447,1239.5 L448,1239.3 L449,1239.1 L450,1238.8 L451,1238.5 L452,1238.3 L453,1237.9 L454,1237.6 L455,1237.2 L456,1236.8 L457,1236.3 L458,1235.8 L459,1235.3 L460,1234.8 L461,1234.2 L462,1233.7 L463,1233.1 L464,1232.4 L465,1231.7 L466,1231.0 L467,1230.3 L468,1229.5 L469,1228.7 L470,1227.9 L471,1227.0 L472,1226.1 L473,1225.2 L474,1224.2 L475,1223.2 L476,1222.2 L477,1221.1 L478,1220.0 L479,1219.0 L480,1217.9 L481,1216.7 L482,1215.6 L483,1214.5 L484,1213.4 L485,1212.3 L486,1211.1 L487,1210.0 L488,1208.9 L489,1207.8 L490,1206.7 L491,1205.6 L492,1204.4 L493,1203.3 L494,1202.2 L495,1201.0 L496,1199.9 L497,1198.8 L498,1197.8 L499,1196.7 L500,1195.7 L501,1194.7 L502,1193.8 L503,1192.9 L504,1192.1 L505,1191.2 L506,1190.4 L507,1189.7 L508,1188.9 L509,1188.2 L510,1187.5 L511,1186.8 L512,1186.1 L513,1185.5 L514,1184.8 L515,1184.1 L516,1183.5 L517,1182.8 L518,1182.2 L519,1181.5 L520,1180.9 L521,1180.2 L522,1179.6 L523,1179.0 L524,1178.3 L525,1177.7 L526,1177.0 L527,1176.4 L528,1175.7 L529,1175.1 L530,1174.5 L531,1173.8 L532,1173.2 L533,1172.6 L534,1171.9 L535,1171.2 L536,1170.6 L537,1169.9 L538,1169.2 L539,1168.4 L540,1167.7 L541,1166.8 L542,1166.0 L543,1165.1 L544,1164.2 L545,1163.2 L546,1162.3 L547,1161.3 L548,1160.3 L549,1159.3 L550,1158.3 L551,1157.3 L552,1156.3 L553,1155.2 L554,1154.1 L555,1153.1 L556,1152.0 L557,1150.9 L558,1149.8 L559,1148.6 L560,1147.5 L561,1146.3 L562,1145.1 L563,1144.0 L564,1142.8 L565,1141.5 L566,1140.3 L567,1139.1 L568,1137.8 L569,1136.6 L570,1135.3 L571,1134.1 L572,1132.8 L573,1131.6 L574,1130.3 L575,1129.1 L576,1127.9 L577,1126.7 L578,1125.5 L579,1124.3 L580,1123.1 L581,1121.9 L582,1120.7 L583,1119.5 L584,1118.3 L585,1117.1 L586,1115.9 L587,1114.7 L588,1113.5 L589,1112.3 L590,1111.2 L591,1110.0 L592,1108.8 L593,1107.7 L594,1106.5 L595,1105.3 L596,1104.2 L597,1103.0 L598,1101.9 L599,1100.8 L600,1099.7 L601,1098.6 L602,1097.5 L603,1096.4 L604,1095.4 L605,1094.4 L606,1093.4 L607,1092.4 L608,1091.5 L609,1090.6 L610,1089.7 L611,1088.8 L612,1088.0 L613,1087.2 L614,1086.4 L615,1085.6 L616,1084.8 L617,1084.1 L618,1083.4 L619,1082.6 L620,1081.9 L621,1081.2 L622,1080.5 L623,1079.8 L624,1079.1 L625,1078.5 L626,1077.8 L627,1077.2 L628,1076.6 L629,1075.9 L630,1075.3 L631,1074.7 L632,1074.1 L633,1073.4 L634,1072.8 L635,1072.2 L636,1071.5 L637,1070.8 L638,1070.2 L639,1069.4 L640,1068.6 L641,1067.8 L642,1066.9 L643,1066.1 L644,1065.2 L645,1064.3 L646,1063.5 L647,1062.6 L648,1061.8 L649,1061.1 L650,1060.4 L651,1059.8 L652,1059.2 L653,1058.8 L654,1058.4 L655,1058.1 L656,1058.0 L657,1057.8 L658,1057.8 L659,1057.7 L660,1057.7 L661,1057.7 L662,1057.7 L663,1057.6 L664,1057.5 L665,1057.4 L666,1057.0 L667,1056.2 L668,1055.2 L669,1054.3 L670,1053.5 L671,1053.3 L672,1053.7 L673,1055.0 L674,1056.9 L675,1059.1 L676,1061.5 L677,1063.7 L678,1065.5 L679,1067.4 L680,1069.2 L681,1071.0 L682,1072.6 L683,1073.9 L684,1074.6 L685,1074.2 L686,1072.3 L687,1069.3 L688,1065.6 L689,1061.6 L690,1057.0 L691,1051.0 L692,1044.7 L693,1039.5 L694,1035.9 L695,1032.6 L696,1029.6 L697,1027.0 L698,1024.6 L699,1022.5 L700,1020.6 L701,1018.9 L702,1017.2 L703,1015.7 L704,1014.3 L705,1013.1 L706,1012.0 L707,1011.0 L708,1010.2 L709,1009.5 L710,1008.9 L711,1008.6 L712,1009.0 L713,1010.5 L714,1012.2 L715,1013.7 L716,1014.4 L717,1013.3 L718,1009.5 L719,1004.2 L720,998.4 L721,991.1 L722,985.6 L723,982.4 L724,979.9 L725,977.9 L726,976.2 L727,974.6 L728,973.0 L729,971.5 L730,970.1 L731,968.8 L732,967.6 L733,966.4 L734,965.4 L735,964.4 L736,963.4 L737,962.5 L738,961.6 L739,960.7 L740,959.8 L741,959.0 L742,958.1 L743,957.3 L744,956.5 L745,955.8 L746,955.0 L747,954.3 L748,953.6 L749,952.9 L750,952.3 L751,951.7 L752,951.0 L753,950.4 L754,949.8 L755,949.1 L756,948.5 L757,947.8 L758,947.1 L759,946.4 L760,945.6 L761,944.8 L762,944.0 L763,943.1 L764,942.2 L765,941.3 L766,940.4 L767,939.5 L768,938.5 L769,937.6 L770,936.7 L771,935.8 L772,934.9 L773,934.1 L774,933.2 L775,932.4 L776,931.7 L777,930.9 L778,930.1 L779,929.3 L780,928.6 L781,927.9 L782,927.1 L783,926.4 L784,925.7 L785,925.1 L786,924.4 L787,923.8 L788,923.2 L789,922.6 L790,922.1 L791,921.5 L792,921.0 L793,920.5 L794,920.0 L795,919.5 L796,919.0 L797,918.5 L798,918.1 L799,917.7 L800,917.3 L801,916.9 L802,916.5 L803,916.2 L804,915.8 L805,915.5 L806,915.2 L807,914.9 L808,914.6 L809,914.3 L810,914.1 L811,913.8 L812,913.5 L813,913.3 L814,913.0 L815,912.8 L816,912.6 L817,912.4 L818,912.1 L819,911.9 L820,911.7 L821,911.5 L822,911.3 L823,911.1 L824,911.0 L825,910.8 L826,910.6 L827,910.4 L828,910.2 L829,910.0 L830,909.8 L831,909.7 L832,909.5 L833,909.4 L834,909.3 L835,909.2 L836,909.1 L837,909.0 L838,908.9 L839,908.9 L840,908.9 L841,908.9 L842,908.9 L843,908.9 L844,908.9 L845,908.9 L846,908.9 L847,908.9 L848,909.0 L849,909.0 L850,909.0 L851,909.1 L852,909.1 L853,909.1 L854,909.2 L855,909.2 L856,909.3 L857,909.3 L858,909.4 L859,909.5 L860,909.5 L861,909.6 L862,909.6 L863,909.7 L864,909.7 L865,909.8 L866,909.8 L867,909.9 L868,909.9 L869,910.0 L870,910.0 L871,910.0 L872,910.1 L873,910.1 L874,910.1 L875,910.2 L876,910.2 L877,910.2 L878,910.2 L879,910.2 L880,910.2 L881,910.2 L882,910.2 L883,910.1 L884,910.1 L885,910.1 L886,910.0 L887,910.0 L888,909.9 L889,909.9 L890,909.8 L891,909.7 L892,909.7 L893,909.6 L894,909.6 L895,909.5 L896,909.4 L897,909.4 L898,909.3 L899,909.3 L900,909.2 L901,909.2 L902,909.1 L903,909.1 L904,909.0 L905,909.0 L906,909.0 L907,908.9 L908,908.9 L909,908.9 L910,909.0 L911,909.6 L912,910.7 L913,912.1 L914,914.2 L915,918.5 L916,922.4 L917,923.0 L918,919.7 L919,915.1 L920,911.8 L921,910.7 L922,909.7 L923,908.8 L924,908.0 L925,907.2 L926,906.4 L927,905.7 L928,905.1 L929,904.5 L930,904.0 L931,903.6 L932,903.3 L933,903.0 L934,902.8 L935,902.7 L936,902.7 L937,902.7 L938,902.9 L939,903.0 L940,903.2 L941,903.4 L942,903.6 L943,903.8 L944,903.9 L945,903.9 L946,903.9 L947,903.1 L948,901.2 L949,898.8 L950,896.7 L951,895.6 L952,896.6 L953,899.2 L954,901.2 L955,901.2 L956,900.8 L957,900.1 L958,899.3 L959,898.4 L960,897.4 L961,896.4 L962,895.6 L963,894.8 L964,894.2 L965,893.8 L966,893.5 L967,893.3 L968,893.1 L969,892.8 L970,892.6 L971,892.3 L972,892.1 L973,891.9 L974,891.6 L975,891.4 L976,891.2 L977,891.0 L978,890.8 L979,890.7 L980,890.5 L981,890.3 L982,890.2 L983,890.1 L984,889.9 L985,889.8 L986,889.8 L987,889.7 L988,889.6 L989,889.6 L990,889.6 L991,889.6 L992,889.6 L993,889.6 L994,889.6 L995,889.6 L996,889.6 L997,889.6 L998,889.6 L999,889.6 L1000,889.6 L1001,889.6 L1002,889.6 L1003,889.6 L1004,889.7 L1005,889.7 L1006,889.7 L1007,889.7 L1008,889.8 L1009,889.8 L1010,889.8 L1011,889.9 L1012,889.9 L1013,890.0 L1014,890.0 L1015,890.1 L1016,890.1 L1017,890.2 L1018,890.3 L1019,890.4 L1020,890.4 L1021,890.5 L1022,890.6 L1023,890.7 L1024,890.8 L1025,890.9 L1026,891.0 L1027,891.1 L1028,891.2 L1029,891.3 L1030,891.4 L1031,891.5 L1032,891.6 L1033,891.7 L1034,891.8 L1035,891.9 L1036,892.0 L1037,892.1 L1038,892.2 L1039,892.3 L1040,892.4 L1041,892.5 L1042,892.6 L1043,892.7 L1044,892.9 L1045,893.0 L1046,893.1 L1047,893.2 L1048,893.3 L1049,893.4 L1050,893.5 L1051,893.6 L1052,893.7 L1053,893.8 L1054,893.9 L1055,894.0 L1056,894.1 L1057,894.2 L1058,894.3 L1059,894.4 L1060,894.5 L1061,894.6 L1062,894.7 L1063,894.8 L1064,894.9 L1065,895.0 L1066,895.1 L1067,895.2 L1068,895.3 L1069,895.4 L1070,895.5 L1071,895.6 L1072,895.7 L1073,895.8 L1074,895.9 L1075,896.0 L1076,896.1 L1077,896.2 L1078,896.2 L1079,896.3 L1080,896.4 L1081,896.5 L1082,896.5 L1083,896.6 L1084,896.7 L1085,896.7 L1086,896.8 L1087,896.8 L1088,896.9 L1089,896.9 L1090,896.9 L1091,897.0 L1092,897.0 L1093,897.0 L1094,897.0 L1095,897.1 L1096,897.1 L1097,897.1 L1098,897.1 L1099,897.1 L1100,897.1 L1101,897.1 L1102,897.1 L1103,897.1 L1104,897.1 L1105,897.1 L1106,897.1 L1107,897.0 L1108,897.0 L1109,897.0 L1110,897.0 L1111,896.9 L1112,896.9 L1113,896.9 L1114,896.8 L1115,896.8 L1116,896.8 L1117,896.7 L1118,896.7 L1119,896.7 L1120,896.6 L1121,896.6 L1122,896.6 L1123,896.6 L1124,896.5 L1125,896.5 L1126,896.5 L1127,896.5 L1128,896.4 L1129,896.4 L1130,896.4 L1131,896.4 L1132,896.4 L1133,896.4 L1134,896.4 L1135,896.4 L1136,896.4 L1137,896.4 L1138,896.5 L1139,896.5 L1140,896.6 L1141,896.6 L1142,896.7 L1143,896.8 L1144,896.9 L1145,897.0 L1146,897.2 L1147,897.3 L1148,897.4 L1149,897.6 L1150,897.8 L1151,897.9 L1152,898.1 L1153,898.3 L1154,898.4 L1155,898.6 L1156,898.8 L1157,899.1 L1158,899.2 L1159,899.3 L1160,899.5 L1161,899.8 L1162,900.1 L1163,900.3 L1164,900.5 L1165,900.5 L1166,900.6 L1167,901.1 L1168,901.3 L1169,901.5 L1170,901.9 L1171,902.0 L1172,902.1 L1173,902.4 L1174,902.9 L1175,903.2 L1176,903.4 L1177,904.2 L1178,904.0 L1179,904.5 L1180,904.5 L1181,905.0 L1182,905.6 L1183,906.0 L1184,906.2 L1185,906.7 L1186,907.0 L1187,906.9 L1188,906.9 L1189,909.0 L1190,909.0 L1191,909.1 L1192,909.0 L1193,909.6 L1194,910.9 L1195,910.0 L1196,911.3 L1197,912.3 L1198,912.6 L1199,913.4 L1200,913.7 L1201,915.3 L1202,914.6 L1203,915.2 L1204,916.5 L1205,917.7 L1206,917.9 L1207,919.1 L1208,919.2 L1209,919.7 L1210,921.7 L1211,922.6 L1212,923.5 L1213,923.5 L1214,924.1 L1215,925.0 L1216,926.4 L1217,927.8 L1218,928.8 L1219,929.0 L1220,931.0 L1221,932.2 L1222,933.5 L1223,934.8 L1224,936.2 L1225,938.1 L1226,939.4 L1227,941.0 L1228,942.2 L1229,944.4 L1230,945.8 L1231,946.5 L1232,949.7 L1233,951.2 L1234,953.8 L1235,955.2 L1236,957.4 L1237,959.8 L1238,961.9 L1239,963.9 L1240,965.5 L1241,970.0 L1242,970.5 L1243,973.7 L1244,976.7 L1245,979.2 L1246,981.9 L1247,984.8 L1248,988.0 L1249,990.3 L1250,995.0 L1251,995.8 L1252,999.8 L1253,1002.8 L1254,1006.2 L1255,1010.4 L1256,1015.2 L1257,1018.1 L1258,1022.8 L1259,1028.6 L1260,1033.7 L1261,1040.1 L1262,1045.3 L1263,1051.1 L1264,1057.6 L1265,1065.2 L1266,1072.6 L1267,1079.8 L1268,1088.9 L1269,1097.6 L1270,1106.8 L1271,1116.1 L1272,1126.6 L1273,1134.7 L1274,1143.4 L1275,1151.0 L1276,1159.0 L1277,1167.4 L1278,1175.2 L1279,1181.8 L1280,1188.3 L1281,1195.0 L1282,1200.2 L1283,1204.7 L1284,1209.7 L1285,1213.9 L1286,1218.2 L1287,1220.8 L1288,1224.5 L1289,1228.0 L1290,1230.4 L1291,1232.5 L1292,1235.1 L1293,1237.8 L1294,1240.1 L1295,1242.3 L1296,1243.6 L1297,1244.8 L1298,1248.0 L1299,1248.9 L1300,1250.4 L1301,1251.6 L1302,1252.0 L1303,1253.1 L1304,1253.9 L1305,1254.3 L1306,1253.3 L1307,1251.0 L1308,1250.6 L1309,1248.9 L1310,1246.8 L1311,1243.9 L1312,1241.4 L1313,1237.8 L1314,1233.8 L1315,1228.6 L1316,1222.1 L1317,1215.7 L1318,1208.0 L1319,1199.6 L1320,1190.9 L1321,1181.1 L1322,1170.4 L1323,1159.3 L1324,1147.8 L1325,1135.9 L1326,1123.2 L1327,1110.4 L1328,1097.4 L1329,1085.0 L1330,1073.1 L1331,1061.5 L1332,1050.2 L1333,1039.5 L1334,1029.7 L1335,1020.8 L1336,1012.8 L1337,1005.7 L1338,999.7 L1339,994.9 L1340,991.2 L1341,988.3 L1342,986.0 L1343,984.4 L1344,983.4 L1345,983.1 L1346,983.6 L1347,985.0 L1348,987.5 L1349,991.1 L1350,996.4 L1351,1006.7 L1352,1020.9 L1353,1037.6 L1354,1055.9 L1355,1075.9 L1356,1096.4 L1357,1116.8 L1358,1138.0 L1359,1156.9 L1360,1171.8 L1361,1182.2 L1362,1185.8 L1363,1182.8 L1364,1175.6 L1365,1165.7 L1366,1154.6 L1367,1140.0 L1368,1123.4 L1369,1108.3 L1370,1097.8 L1371,1089.4 L1372,1082.2 L1373,1076.7 L1374,1073.4 L1375,1072.5 L1376,1074.1 L1377,1077.2 L1378,1081.6 L1379,1086.9 L1380,1092.8 L1381,1099.3 L1382,1107.0 L1383,1115.2 L1384,1123.3 L1385,1130.9 L1386,1137.3 L1387,1142.9 L1388,1148.2 L1389,1153.3 L1390,1158.4 L1391,1163.4 L1392,1168.5 L1393,1173.4 L1394,1177.7 L1395,1181.8 L1396,1185.9 L1397,1190.4 L1398,1195.4 L1399,1201.5 L1400,1209.1 L1401,1227.1 L1402,1251.0 L1403,1275.7 L1404,1291.1 L1405,1270.7 L1406,1252.7 L1407,1242.1 L1408,1229.3 L1409,1209.9 L1410,1188.3 L1411,1170.8 L1412,1159.3 L1413,1149.7 L1414,1142.1 L1415,1136.2 L1416,1131.3 L1417,1126.7 L1418,1122.3 L1419,1118.1 L1420,1114.1 L1421,1110.1 L1422,1106.1 L1423,1102.0 L1424,1097.7 L1425,1093.6 L1426,1089.5 L1427,1085.5 L1428,1081.4 L1429,1077.3 L1430,1073.0 L1431,1068.5 L1432,1063.7 L1433,1058.3 L1434,1050.7 L1435,1041.4 L1436,1031.2 L1437,1021.0 L1438,1011.6 L1439,1003.5 L1440,995.8 L1441,988.2 L1442,981.0 L1443,974.0 L1444,967.4 L1445,961.2 L1446,955.2 L1447,949.4 L1448,943.9 L1449,938.9 L1450,934.3 L1451,930.3 L1452,926.8 L1453,923.6 L1454,920.6 L1455,917.9 L1456,915.5 L1457,913.4 L1458,911.6 L1459,910.0 L1460,908.5 L1461,907.1 L1462,905.8 L1463,904.7 L1464,903.7 L1465,902.9 L1466,902.4 L1467,901.9 L1468,901.4 L1469,901.0 L1470,900.8 L1471,900.6 L1472,900.5 L1473,900.5 L1474,900.7 L1475,900.9 L1476,901.3 L1477,901.7 L1478,902.3 L1479,902.9 L1480,903.6 L1481,904.4 L1482,905.2 L1483,906.1 L1484,907.1 L1485,908.2 L1486,909.6 L1487,911.1 L1488,912.7 L1489,914.5 L1490,916.4 L1491,918.4 L1492,920.5 L1493,922.7 L1494,925.0 L1495,927.5 L1496,930.1 L1497,932.7 L1498,935.3 L1499,937.9 L1500,940.4 L1501,942.8 L1502,945.1 L1503,947.4 L1504,949.7 L1505,951.9 L1506,954.1 L1507,956.2 L1508,958.2 L1509,960.2 L1510,961.9 L1511,963.6 L1512,965.1 L1513,966.6 L1514,968.0 L1515,969.4 L1516,970.8 L1517,972.2 L1518,973.6 L1519,975.1 L1520,976.7 L1521,978.4 L1522,980.2 L1523,982.0 L1524,983.9 L1525,985.7 L1526,987.6 L1527,989.5 L1528,991.3 L1529,993.1 L1530,994.9 L1531,996.6 L1532,998.4 L1533,1000.1 L1534,1001.8 L1535,1003.4 L1536,1005.0 L1537,1006.5 L1538,1008.0 L1539,1009.3 L1540,1010.6 L1541,1011.7 L1542,1012.7 L1543,1013.4 L1544,1013.7 L1545,1013.7 L1546,1013.5 L1547,1013.3 L1548,1013.1 L1549,1013.2 L1550,1013.6 L1551,1014.6 L1552,1016.2 L1553,1018.3 L1554,1020.4 L1555,1022.4 L1556,1024.7 L1557,1027.1 L1558,1029.3 L1559,1031.0 L1560,1031.7 L1561,1031.2 L1562,1030.2 L1563,1029.6 L1564,1029.8 L1565,1030.4 L1566,1030.9 L1567,1030.4 L1568,1027.4 L1569,1023.0 L1570,1018.0 L1571,1012.0 L1572,1007.0 L1573,1003.1 L1574,999.7 L1575,996.7 L1576,994.2 L1577,992.0 L1578,990.0 L1579,988.1 L1580,986.5 L1581,985.3 L1582,984.4 L1583,983.6 L1584,982.8 L1585,982.2 L1586,981.6 L1587,981.2 L1588,980.8 L1589,980.6 L1590,980.5 L1591,980.5 L1592,980.7 L1593,981.3 L1594,982.2 L1595,983.3 L1596,984.6 L1597,985.8 L1598,986.9 L1599,987.7 L1600,988.2 L1601,988.3 L1602,988.2 L1603,988.0 L1604,987.7 L1605,987.4 L1606,987.0 L1607,986.6 L1608,986.2 L1609,985.9 L1610,985.5 L1611,985.2 L1612,985.0 L1613,984.9 L1614,984.8 L1615,984.8 L1616,984.8 L1617,984.8 L1618,984.8 L1619,984.9 L1620,984.9 L1621,984.9 L1622,985.0 L1623,985.0 L1624,985.1 L1625,985.2 L1626,985.3 L1627,985.4 L1628,985.5 L1629,985.6 L1630,985.8 L1631,985.9 L1632,986.2 L1633,986.4 L1634,986.7 L1635,987.0 L1636,987.3 L1637,987.6 L1638,988.0 L1639,988.3 L1640,988.7 L1641,989.1 L1642,989.5 L1643,990.0 L1644,990.5 L1645,991.1 L1646,991.8 L1647,992.6 L1648,993.4 L1649,994.3 L1650,995.3 L1651,996.2 L1652,997.2 L1653,998.5 L1654,999.9 L1655,1001.6 L1656,1003.5 L1657,1006.1 L1658,1010.3 L1659,1014.6 L1660,1017.6 L1661,1020.2 L1662,1022.6 L1663,1024.6 L1664,1026.2 L1665,1027.2 L1666,1027.7 L1667,1027.9 L1668,1028.0 L1669,1028.1 L1670,1028.3 L1671,1028.9 L1672,1029.7 L1673,1030.8 L1674,1032.0 L1675,1033.4 L1676,1035.0 L1677,1036.8 L1678,1039.0 L1679,1041.4 L1680,1043.9 L1681,1046.3 L1682,1048.5 L1683,1050.7 L1684,1052.9 L1685,1055.0 L1686,1056.7 L1687,1057.9 L1688,1058.2 L1689,1057.5 L1690,1055.9 L1691,1054.0 L1692,1052.1 L1693,1050.6 L1694,1049.7 L1695,1048.8 L1696,1048.1 L1697,1047.5 L1698,1047.2 L1699,1047.3 L1700,1047.7 L1701,1048.4 L1702,1049.4 L1703,1050.6 L1704,1052.0 L1705,1053.6 L1706,1055.6 L1707,1058.0 L1708,1060.7 L1709,1063.5 L1710,1066.5 L1711,1069.9 L1712,1073.5 L1713,1077.4 L1714,1081.6 L1715,1086.1 L1716,1090.9 L1717,1095.8 L1718,1100.7 L1719,1105.9 L1720,1111.7 L1721,1118.1 L1722,1124.7 L1723,1131.3 L1724,1138.0 L1725,1144.5 L1726,1150.5 L1727,1155.9 L1728,1160.7 L1729,1164.9 L1730,1168.5 L1731,1171.1 L1732,1172.3 L1733,1172.7 L1734,1172.3 L1735,1171.0 L1736,1166.4 L1737,1160.1 L1738,1156.1 L1739,1152.7 L1740,1150.7 L1741,1150.4 L1742,1150.7 L1743,1151.6 L1744,1153.1 L1745,1155.3 L1746,1157.9 L1747,1160.6 L1748,1163.2 L1749,1165.8 L1750,1168.3 L1751,1170.9 L1752,1173.4 L1753,1175.9 L1754,1178.4 L1755,1180.5 L1756,1182.1 L1757,1183.0 L1758,1182.9 L1759,1181.5 L1760,1179.2 L1761,1176.7 L1762,1173.5 L1763,1170.6 L1764,1169.4 L1765,1168.9 L1766,1168.6 L1767,1168.4 L1768,1168.3 L1769,1168.2 L1770,1168.1 L1771,1168.1 L1772,1168.1 L1773,1168.0 L1774,1167.9 L1775,1167.8 L1776,1167.6 L1777,1167.1 L1778,1166.5 L1779,1165.8 L1780,1164.9 L1781,1163.9 L1782,1162.8 L1783,1161.4 L1784,1159.9 L1785,1158.1 L1786,1156.2 L1787,1154.1 L1788,1152.0 L1789,1149.7 L1790,1147.4 L1791,1145.2 L1792,1143.0 L1793,1140.7 L1794,1138.5 L1795,1136.3 L1796,1134.2 L1797,1132.0 L1798,1129.9 L1799,1127.9 L1800,1125.9 L1801,1124.0 L1802,1122.1 L1803,1120.3 L1804,1118.6 L1805,1116.8 L1806,1115.1 L1807,1113.4 L1808,1111.7 L1809,1110.0 L1810,1108.3 L1811,1106.6 L1812,1104.8 L1813,1103.0 L1814,1101.3 L1815,1099.5 L1816,1097.9 L1817,1096.3 L1818,1094.8 L1819,1093.3 L1820,1091.9 L1821,1090.5 L1822,1089.1 L1823,1087.7 L1824,1086.3 L1825,1084.8 L1826,1083.4 L1827,1081.9 L1828,1080.5 L1829,1079.3 L1830,1077.7 L1831,1076.4 L1832,1074.8 L1833,1073.9 L1834,1072.1 L1835,1070.4 L1836,1069.7 L1837,1068.2 L1838,1067.6 L1839,1066.5 L1840,1065.7 L1841,1064.8 L1842,1063.5 L1843,1062.4 L1844,1062.9 L1845,1061.4 L1846,1060.8 L1847,1059.5 L1848,1057.8 L1849,1057.4 L1850,1058.3 L1851,1056.4 L1852,1056.1 L1853,1055.0 L1854,1055.3 L1855,1055.1 L1856,1055.1 L1857,1055.2 L1858,1055.0 L1859,1055.4 L1860,1056.1 L1861,1056.8 L1862,1054.0 L1863,1061.2 L1864,1056.1 L1865,1062.8"/>
</g>
<!-- arrows -->
<g stroke="#000" stroke-width="2.8" stroke-linecap="round" fill="#000">
<line x1="1635.4" y1="410.9" x2="1659.2" y2="387.6"/>
<polygon stroke-width="1.5" stroke-linejoin="round" points="1682.5,364.9 1664.0,395.3 1651.6,382.7"/>
<line x1="1196.9" y1="680.4" x2="1272.6" y2="680.4"/>
<polygon stroke-width="1.5" stroke-linejoin="round" points="1305.1,680.4 1270.6,689.2 1270.6,671.5"/>
<line x1="368.8" y1="1264.5" x2="401.1" y2="1275.7"/>
<polygon stroke-width="1.5" stroke-linejoin="round" points="431.8,1286.4 396.3,1283.4 402.1,1266.7"/>
<line x1="612.1" y1="1023.0" x2="646.4" y2="1043.4"/>
<polygon stroke-width="1.5" stroke-linejoin="round" points="674.3,1060.0 640.1,1050.0 649.2,1034.8"/>
<line x1="987.1" y1="991.3" x2="952.8" y2="969.3"/>
<polygon stroke-width="1.5" stroke-linejoin="round" points="925.5,951.7 959.3,962.9 949.7,977.8"/>
<line x1="780.7" y1="1241.2" x2="745.9" y2="1218.1"/>
<polygon stroke-width="1.5" stroke-linejoin="round" points="718.8,1200.2 752.4,1211.9 742.7,1226.6"/>
<line x1="1173.0" y1="1246.7" x2="1332.1" y2="1268.7"/>
<polygon stroke-width="1.5" stroke-linejoin="round" points="1364.3,1273.1 1328.9,1277.2 1331.3,1259.6"/>
<line x1="1234.7" y1="1337.3" x2="1364.5" y2="1337.3"/>
<polygon stroke-width="1.5" stroke-linejoin="round" points="1397.0,1337.3 1362.5,1346.1 1362.5,1328.5"/>
<line x1="1667.4" y1="1155.1" x2="1699.1" y2="1168.6"/>
<polygon stroke-width="1.5" stroke-linejoin="round" points="1729.0,1181.3 1693.8,1175.9 1700.7,1159.7"/>
<line x1="1499.2" y1="1233.6" x2="1518.4" y2="1222.6"/>
<polygon stroke-width="1.5" stroke-linejoin="round" points="1546.6,1206.5 1521.0,1231.3 1512.3,1215.9"/>
<line x1="1814.1" y1="1241.4" x2="1795.0" y2="1230.5"/>
<polygon stroke-width="1.5" stroke-linejoin="round" points="1766.8,1214.3 1801.1,1223.8 1792.3,1239.1"/>
</g>
<!-- peak guides -->
<g stroke="#ff8000" stroke-width="4.8" stroke-linecap="round" stroke-dasharray="20.8 26.42">
<line x1="441.8" y1="464.0" x2="441.8" y2="1380.9"/>
<line x1="683.6" y1="1080.8" x2="683.6" y2="1384.3"/>
<line x1="716.3" y1="1019.2" x2="716.3" y2="1406.1"/>
<line x1="916.4" y1="948.7" x2="916.4" y2="1396.3"/>
<line x1="1306.0" y1="478.6" x2="1306.0" y2="1396.3"/>
<line x1="1362.2" y1="1191.6" x2="1362.2" y2="1399.1"/>
<line x1="1407.0" y1="1237.0" x2="1407.0" y2="1397.1"/>
<line x1="1564.2" y1="1047.6" x2="1564.2" y2="1396.3"/>
<line x1="1688.2" y1="328.2" x2="1688.2" y2="1386.8"/>
<line x1="1733.4" y1="1187.3" x2="1733.4" y2="1396.3"/>
<line x1="1758.8" y1="1187.8" x2="1758.8" y2="1396.3"/>
</g>
<g class="pl">
<text transform="translate(1570.9,467.2) scale(1,1.03)">784</text>
<text transform="translate(1075.5,696.7) scale(1,1.03)">1596</text>
<text transform="translate(243.0,1277.9) scale(1,1.03)">3450</text>
<text transform="translate(494.7,1014.9) scale(1,1.03)">2930</text>
<text transform="translate(1000.5,1022.4) scale(1,1.03)">2426</text>
<text transform="translate(754.5,1297.2) scale(1,1.03)">2850</text>
<text transform="translate(1049.5,1244.4) scale(1,1.03)">1480</text>
<text transform="translate(1115.0,1352.3) scale(1,1.03)">1384</text>
<text transform="translate(1420.0,1325.9) scale(1,1.03)">1048</text>
<text transform="translate(1578.7,1152.2) scale(1,1.03)">687</text>
<text transform="translate(1769.3,1301.6) scale(1,1.03)">627</text>
</g>
<g class="bl">
<text x="197.4" y="240.0">10.0 wt%</text>
<text x="195.5" y="544.5">26.4 wt%</text>
<text x="196.5" y="910.4">31.2 wt%</text>
</g>
<g class="ax" font-size="58.3" text-anchor="middle">
<text transform="translate(179.0,1474) scale(1,1.03)">4000</text>
<text transform="translate(647.3,1474) scale(1,1.03)">3000</text>
<text transform="translate(1115.7,1474) scale(1,1.03)">2000</text>
<text transform="translate(1584.0,1474) scale(1,1.03)">1000</text>
</g>
<g class="ax" font-size="64.7">
<text transform="scale(1,1.04)"><tspan x="711.5" y="1558.75">Wavenumbers (cm</tspan><tspan x="1248.5" y="1517.02" font-size="52">−</tspan><tspan x="1279.1" y="1516.63">1</tspan><tspan x="1314.6" y="1558.75">)</tspan></text>
<text font-size="64.3" transform="translate(70.1,957) rotate(-90) scale(1,1.04)">Transmittance (%)</text>
</g>
</svg>
</body>
</html>
